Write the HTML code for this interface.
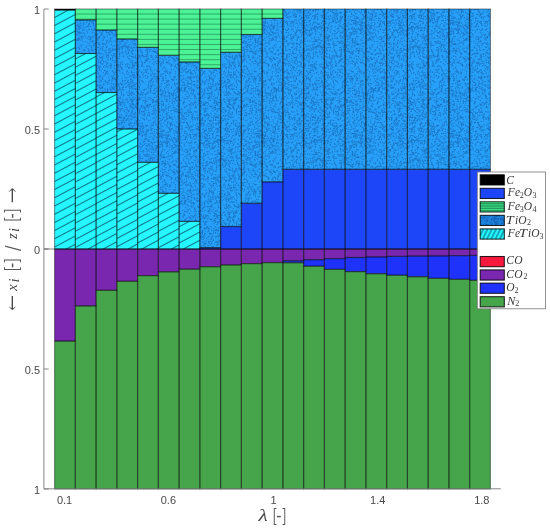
<!DOCTYPE html>
<html lang="en"><head><meta charset="utf-8"><title>Composition vs lambda</title>
<style>html,body{margin:0;padding:0;background:#fff}svg{display:block}.tk{font-family:"Liberation Sans",sans-serif;font-size:11px;fill:#484848}.lg{font-family:"Liberation Serif",serif;font-style:italic;font-size:11.5px;fill:#383838}.sb{font-style:normal;font-size:8px}.ma{font-family:"DejaVu Math TeX Gyre","DejaVu Serif",serif;font-size:17px;fill:#484848}.mb{font-family:"DejaVu Math TeX Gyre","DejaVu Serif",serif;font-size:18px;fill:#555}.ms{font-family:"DejaVu Math TeX Gyre","DejaVu Serif",serif;font-size:19px;fill:#555}.mi{font-family:"Liberation Serif",serif;font-style:italic;font-size:14.5px;fill:#444}</style></head><body>
<svg width="550" height="532" viewBox="0 0 550 532">
<rect width="550" height="532" fill="#fff"/>
<defs><pattern id="sp" width="97" height="113" patternUnits="userSpaceOnUse"><path d="M31.4 17.0h.01M63.1 8.2h.01M52.0 41.3h.01M5.6 57.3h.01M3.6 49.0h.01M6.8 10.3h.01M41.2 93.4h.01M12.0 25.2h.01M60.9 107.1h.01M56.0 44.8h.01M94.7 5.3h.01M83.3 32.7h.01M14.0 13.3h.01M29.9 92.2h.01M17.5 65.7h.01M62.0 42.1h.01M53.1 7.1h.01M5.8 23.3h.01M66.0 48.3h.01M30.5 66.2h.01M44.0 33.9h.01M77.1 79.0h.01M23.7 64.9h.01M50.9 98.9h.01M70.8 32.5h.01M95.1 13.3h.01M40.6 85.6h.01M14.7 55.3h.01M3.8 75.5h.01M74.2 64.8h.01M84.9 35.5h.01M67.4 67.2h.01M56.2 51.6h.01M81.5 106.7h.01M46.0 75.0h.01M5.9 79.3h.01M62.8 112.2h.01M79.7 32.2h.01M37.4 75.6h.01M2.2 52.2h.01M16.3 13.2h.01M5.7 86.8h.01M12.5 28.0h.01M37.9 98.5h.01M7.8 50.8h.01M53.3 99.8h.01M79.5 97.6h.01M27.0 46.9h.01M34.8 99.9h.01M92.9 17.1h.01M17.1 26.2h.01M22.6 54.8h.01M57.1 29.7h.01M0.4 47.3h.01M35.8 64.0h.01M92.5 78.0h.01M50.0 69.8h.01M65.6 6.1h.01M87.3 88.1h.01M84.8 90.2h.01M38.1 45.1h.01M10.0 71.7h.01M6.0 7.6h.01M20.3 18.3h.01M33.0 5.9h.01M0.0 17.1h.01M9.8 41.1h.01M2.5 98.8h.01M59.6 16.8h.01M24.5 39.3h.01M35.3 13.9h.01M82.3 112.2h.01M45.2 54.7h.01M8.3 11.5h.01M33.2 29.9h.01M80.4 18.2h.01M2.2 107.5h.01M51.2 16.6h.01M52.7 3.1h.01M51.2 110.6h.01M83.7 78.7h.01M25.3 41.4h.01M16.2 87.2h.01M51.7 88.0h.01M32.0 25.2h.01M78.7 111.3h.01M82.7 91.1h.01M79.4 83.6h.01M22.0 58.5h.01M34.5 3.3h.01M2.7 31.6h.01M25.1 78.3h.01M92.8 50.5h.01M90.9 111.6h.01M92.6 41.2h.01M21.4 25.6h.01M19.1 23.1h.01M60.5 101.7h.01M81.5 54.2h.01M63.3 90.4h.01M8.2 74.6h.01M88.2 88.4h.01M72.8 54.0h.01M17.3 89.2h.01M32.3 90.5h.01M94.3 44.7h.01M38.9 107.0h.01M70.3 19.2h.01M12.3 17.1h.01M87.8 91.1h.01M14.2 93.4h.01M95.1 74.3h.01M34.0 62.0h.01M12.7 1.6h.01M94.2 73.4h.01M51.1 105.5h.01M42.1 98.5h.01M80.1 23.8h.01M24.4 33.1h.01M23.3 66.3h.01M25.2 47.3h.01M12.7 102.8h.01M34.3 51.8h.01M56.6 102.2h.01M40.8 103.7h.01M48.7 60.1h.01M50.8 2.1h.01M42.7 20.7h.01M0.4 90.3h.01M16.7 53.5h.01M70.3 62.9h.01M31.6 58.6h.01M53.9 88.6h.01M10.3 63.3h.01M24.1 31.3h.01M74.9 57.4h.01M54.5 85.9h.01M88.5 50.1h.01M59.4 57.1h.01M49.7 78.3h.01M43.9 60.3h.01M46.4 106.4h.01M67.8 99.0h.01M91.4 29.3h.01M54.3 106.6h.01M81.5 15.5h.01M11.8 50.0h.01M7.0 27.2h.01M7.1 75.7h.01M76.0 101.4h.01M15.0 80.9h.01M64.0 16.2h.01M85.6 109.3h.01M21.3 107.6h.01M38.6 55.1h.01M96.0 94.1h.01M15.7 48.8h.01M50.0 38.3h.01M19.0 36.0h.01M70.0 2.2h.01M53.7 49.8h.01M1.8 37.5h.01M60.5 57.9h.01M6.2 111.3h.01M76.5 109.8h.01M10.2 30.0h.01M3.8 88.0h.01M26.2 14.6h.01M41.0 103.0h.01M79.4 29.2h.01M14.5 103.9h.01M55.3 79.1h.01M8.7 6.5h.01M66.8 48.1h.01M7.0 106.0h.01M61.5 90.6h.01M8.1 96.8h.01M6.5 97.5h.01M44.0 38.3h.01M53.6 104.7h.01M26.0 14.6h.01M51.1 26.9h.01M10.6 18.2h.01M4.9 22.8h.01M30.3 34.5h.01M73.7 32.8h.01M48.5 20.1h.01M33.7 2.1h.01M24.3 1.7h.01M71.1 62.3h.01M18.4 53.6h.01M90.7 12.0h.01M79.4 48.8h.01M48.0 94.3h.01M38.1 57.3h.01M66.7 111.0h.01M33.2 94.0h.01M68.6 71.9h.01M39.3 39.3h.01M5.3 14.7h.01M6.9 83.7h.01M24.8 18.4h.01M8.2 95.1h.01M84.4 75.8h.01M27.3 27.4h.01M28.4 51.9h.01M15.3 50.4h.01M25.5 108.7h.01M94.3 61.8h.01M23.7 109.1h.01M30.0 40.3h.01M0.1 43.1h.01M46.0 56.8h.01M19.5 57.0h.01M0.5 29.9h.01M8.7 45.1h.01M4.0 2.5h.01M29.5 26.3h.01M56.8 59.8h.01M72.8 74.3h.01M69.5 99.3h.01M37.8 36.9h.01M95.5 16.9h.01M70.2 72.7h.01M4.2 94.4h.01M86.5 70.9h.01M71.2 91.8h.01M13.5 59.2h.01M48.9 94.3h.01M78.1 93.4h.01M56.7 100.9h.01M66.2 78.3h.01M22.3 3.5h.01M12.9 40.8h.01M10.2 94.4h.01M54.2 70.9h.01M60.7 76.9h.01M47.5 0.4h.01M77.4 84.6h.01M48.8 60.5h.01M64.0 7.5h.01M71.5 28.5h.01M7.2 30.0h.01M70.7 23.2h.01M71.8 110.3h.01M47.9 43.2h.01M46.5 77.3h.01M74.4 69.7h.01M62.3 8.8h.01M14.3 28.7h.01M72.1 34.4h.01M55.1 1.4h.01M5.9 30.4h.01M65.2 78.2h.01M65.5 32.9h.01M50.1 52.5h.01M45.2 13.4h.01M86.7 22.5h.01M94.9 105.8h.01M1.7 51.9h.01M79.5 109.4h.01M43.6 30.4h.01M20.4 106.9h.01M20.4 65.7h.01M13.7 59.2h.01M92.4 15.0h.01M79.6 57.5h.01M86.0 79.5h.01M22.4 101.4h.01M47.2 2.8h.01M0.3 55.6h.01M43.7 34.1h.01M13.6 38.9h.01M30.7 94.9h.01M0.2 84.8h.01M81.4 13.6h.01M89.9 80.6h.01M87.5 32.8h.01M36.1 44.4h.01M96.9 66.6h.01M35.0 48.4h.01M26.7 5.5h.01M9.9 94.3h.01M27.7 105.7h.01M24.2 30.0h.01M49.6 21.5h.01M36.2 108.0h.01M85.8 91.8h.01M61.2 103.2h.01M91.2 62.1h.01M69.8 5.6h.01M71.0 50.9h.01M73.0 72.8h.01M27.8 5.5h.01M89.9 14.4h.01M45.8 38.8h.01M28.9 83.5h.01M94.7 29.4h.01M63.6 34.0h.01M54.1 44.6h.01M16.2 18.3h.01M20.2 102.4h.01M48.2 24.9h.01M87.9 112.6h.01M43.6 15.8h.01M18.7 10.3h.01M33.2 10.3h.01M23.2 29.2h.01M55.3 100.3h.01M72.7 46.6h.01M40.1 59.2h.01M36.6 38.2h.01M6.0 31.4h.01M93.9 14.2h.01M48.8 71.1h.01M83.7 24.4h.01M26.3 28.1h.01M38.8 50.4h.01M92.5 95.9h.01M84.7 2.5h.01M3.1 80.2h.01M86.9 53.5h.01M57.0 0.0h.01M38.0 104.7h.01M80.1 96.7h.01M94.3 28.1h.01M10.6 17.4h.01M50.7 77.1h.01M91.3 81.6h.01M62.8 86.4h.01M44.4 62.3h.01M3.8 88.4h.01M22.6 104.0h.01M62.6 34.3h.01M12.4 28.5h.01M61.7 78.9h.01M10.9 7.9h.01M50.9 65.9h.01M37.6 25.3h.01M58.3 1.2h.01M29.2 52.1h.01M93.0 72.8h.01M85.7 53.7h.01M22.8 27.9h.01M93.2 79.6h.01M29.8 2.5h.01M48.3 76.2h.01M40.7 29.1h.01M64.7 104.5h.01M22.0 3.9h.01M32.8 47.5h.01M66.2 22.4h.01M77.3 83.5h.01M49.0 23.2h.01M94.1 35.2h.01M79.5 26.1h.01M21.5 85.9h.01M28.6 107.6h.01M48.1 21.2h.01M21.7 47.1h.01M64.5 107.2h.01M14.2 44.5h.01M20.7 110.1h.01M13.8 5.9h.01M5.8 44.4h.01M87.1 99.8h.01M71.1 112.7h.01M90.4 37.2h.01M18.0 105.8h.01M72.4 3.6h.01M64.4 42.8h.01M36.3 37.5h.01M16.4 0.3h.01M27.1 39.7h.01M92.7 14.0h.01M93.5 23.4h.01M34.6 92.8h.01M79.7 48.9h.01M4.8 53.5h.01M36.2 103.9h.01M18.7 41.2h.01M87.0 3.4h.01M39.8 91.7h.01M74.4 4.6h.01M3.4 7.1h.01M89.2 29.0h.01M72.5 101.5h.01M32.9 30.8h.01M92.9 69.7h.01M25.4 81.0h.01M30.7 31.1h.01M0.4 85.4h.01M88.9 71.6h.01M91.5 2.7h.01M22.7 53.7h.01M92.8 107.8h.01M37.5 28.4h.01M41.7 55.8h.01M90.0 20.7h.01M77.8 83.4h.01M79.8 87.3h.01M58.9 37.0h.01M31.0 40.9h.01M75.9 8.9h.01M19.1 85.1h.01M24.0 7.3h.01M3.3 62.4h.01M31.6 110.8h.01M85.7 111.6h.01M25.7 9.5h.01M9.4 56.3h.01M68.8 50.5h.01M22.7 47.1h.01M60.2 76.2h.01M72.6 95.7h.01M64.4 13.7h.01M81.6 33.2h.01M55.0 42.1h.01M71.6 22.5h.01M24.0 27.7h.01M14.9 99.9h.01M56.1 36.9h.01M38.4 112.1h.01M49.2 26.1h.01M78.4 73.8h.01M96.1 11.6h.01M46.1 92.6h.01M81.5 103.3h.01M3.9 33.2h.01M11.6 21.4h.01M94.4 65.9h.01M90.2 42.1h.01M84.0 50.7h.01M25.2 87.9h.01M91.7 12.0h.01M57.8 70.1h.01M21.1 41.7h.01M13.7 23.0h.01M24.7 67.7h.01M63.2 23.0h.01M1.1 37.0h.01M65.8 20.9h.01M30.3 23.0h.01M77.1 61.9h.01M6.1 11.5h.01M38.3 62.2h.01M62.0 10.3h.01M15.9 78.6h.01M39.7 32.0h.01M29.8 107.7h.01M30.3 64.0h.01M34.6 47.1h.01M83.8 112.6h.01M35.3 22.3h.01M70.6 23.0h.01M0.6 101.9h.01M41.1 92.7h.01M39.4 99.8h.01M44.7 18.4h.01M1.4 62.3h.01M62.1 102.8h.01M8.6 70.3h.01M36.0 57.0h.01M14.2 32.0h.01M50.6 104.6h.01M10.6 55.4h.01M78.1 109.3h.01M19.1 14.3h.01M91.5 110.2h.01M46.8 6.0h.01M89.8 43.8h.01M87.7 70.1h.01M80.0 18.1h.01M76.2 25.1h.01M39.2 95.6h.01M80.4 20.7h.01M21.2 45.2h.01M50.2 43.3h.01M11.9 27.9h.01M70.3 101.4h.01M4.0 63.5h.01M73.5 4.3h.01M81.3 13.3h.01M58.2 62.2h.01M60.8 34.6h.01M40.7 65.8h.01M41.3 74.4h.01M43.3 49.5h.01M2.3 69.9h.01M47.5 26.6h.01M74.1 88.1h.01M44.5 20.3h.01M45.9 12.1h.01M12.5 48.7h.01M8.9 49.9h.01M49.5 4.6h.01M61.7 9.3h.01M71.1 87.9h.01M49.6 6.1h.01M48.9 42.7h.01M92.2 15.4h.01M83.1 112.6h.01M71.0 92.1h.01M18.8 110.9h.01M47.7 108.1h.01M88.9 18.7h.01M76.5 105.2h.01M6.4 39.7h.01M73.3 17.9h.01M87.0 31.1h.01M79.1 16.2h.01M48.7 103.9h.01M20.2 29.7h.01M49.1 36.1h.01M3.6 20.6h.01M15.6 105.8h.01M65.9 101.2h.01M16.4 88.7h.01M11.2 60.0h.01M61.7 40.7h.01M84.7 62.7h.01M56.3 99.7h.01M10.1 112.2h.01M61.1 44.6h.01M77.4 29.9h.01M96.1 65.2h.01M34.9 86.4h.01M42.9 20.0h.01M72.1 5.5h.01M79.5 28.7h.01M62.0 111.2h.01M56.8 75.0h.01M30.3 0.2h.01M3.3 16.9h.01M59.8 48.8h.01M49.7 101.2h.01M12.8 25.7h.01M63.4 2.5h.01M0.3 40.1h.01M10.3 40.4h.01M21.8 65.9h.01M57.1 23.1h.01M60.5 53.7h.01M13.1 105.8h.01M23.6 16.9h.01M9.3 72.1h.01M84.5 88.4h.01M39.0 29.9h.01M1.1 72.9h.01M54.5 39.6h.01M62.6 50.1h.01M90.9 82.9h.01M24.1 102.1h.01M4.3 60.1h.01M39.4 26.9h.01M5.7 88.0h.01M1.2 62.3h.01M91.3 16.1h.01M19.4 68.7h.01M49.2 72.5h.01M78.9 19.7h.01M30.0 33.9h.01M4.7 100.5h.01M75.9 80.8h.01M0.6 95.4h.01M72.3 52.6h.01M72.0 51.1h.01M21.9 11.9h.01M22.5 4.4h.01M32.5 84.7h.01M67.4 95.5h.01M69.0 30.1h.01M53.7 49.3h.01M76.5 59.1h.01M25.7 72.5h.01M93.6 24.5h.01M85.4 1.7h.01M25.3 26.7h.01M72.2 106.8h.01M72.4 36.9h.01M85.4 37.1h.01M23.2 102.6h.01M61.2 78.3h.01M64.5 110.6h.01M45.5 94.9h.01M67.7 96.9h.01M42.4 81.9h.01M55.3 34.8h.01M20.6 70.4h.01M7.5 102.9h.01M14.0 3.0h.01M10.3 105.0h.01M33.5 16.0h.01M2.8 4.7h.01M67.2 71.6h.01M67.6 83.3h.01M6.4 66.7h.01M35.3 92.4h.01M79.5 100.7h.01M6.4 98.1h.01M88.7 106.7h.01M10.4 23.2h.01M10.9 3.9h.01M82.2 91.8h.01M61.5 93.2h.01M61.3 32.5h.01M9.7 11.1h.01M73.5 23.2h.01M31.0 47.9h.01M2.0 29.0h.01M27.4 80.9h.01M35.7 36.3h.01M93.5 56.9h.01M82.6 69.9h.01M3.0 46.7h.01M42.3 87.4h.01M33.6 79.6h.01M52.2 24.5h.01M83.6 10.3h.01M79.5 19.3h.01M0.1 22.8h.01M73.9 110.5h.01M0.4 55.5h.01M47.7 90.0h.01M17.9 55.9h.01M33.7 94.0h.01M25.3 106.7h.01M27.5 24.3h.01M67.8 56.3h.01M10.7 71.9h.01M7.8 89.0h.01M67.6 88.9h.01M60.9 40.2h.01M38.9 44.6h.01M86.4 9.7h.01M86.2 2.8h.01M20.0 29.7h.01M87.4 56.6h.01M36.8 99.9h.01M22.7 52.1h.01M51.6 85.3h.01M73.0 73.0h.01M33.8 36.9h.01M15.1 95.3h.01M64.2 83.8h.01M16.4 49.6h.01M75.0 65.4h.01M12.2 52.2h.01M85.9 26.9h.01M18.6 34.1h.01M68.2 95.3h.01M15.0 17.6h.01M24.0 36.9h.01M50.7 18.2h.01M31.8 21.4h.01M94.6 82.3h.01M9.9 108.7h.01M9.9 43.4h.01M95.4 89.8h.01M71.1 49.1h.01M19.0 72.1h.01M10.4 23.3h.01M37.7 3.8h.01M38.7 89.4h.01M67.3 56.6h.01M61.3 52.4h.01M13.8 68.2h.01M39.3 83.7h.01M88.1 48.6h.01M55.7 84.6h.01M40.9 25.8h.01M70.1 99.4h.01M75.1 79.1h.01M82.7 76.8h.01M62.2 51.3h.01M30.4 71.0h.01M9.5 47.4h.01M75.9 80.6h.01M61.1 28.3h.01M41.1 51.4h.01M60.3 46.3h.01M65.5 105.1h.01M17.8 74.0h.01M75.5 43.9h.01M47.5 110.1h.01M3.7 61.4h.01M15.6 88.3h.01M91.2 58.7h.01M9.8 64.9h.01M52.5 81.1h.01M49.7 72.2h.01M80.4 59.0h.01M39.8 107.1h.01M20.4 77.3h.01M38.1 86.2h.01M11.9 111.2h.01M34.5 6.4h.01M26.6 45.2h.01M1.3 47.3h.01M40.8 78.9h.01M34.2 30.0h.01M21.8 83.8h.01M91.2 59.6h.01M21.2 90.6h.01M38.0 24.0h.01M12.5 87.8h.01M78.5 71.7h.01M45.5 63.5h.01M21.9 108.9h.01M34.3 72.2h.01M79.4 92.2h.01M45.4 33.3h.01M53.2 14.1h.01M80.9 40.1h.01M82.5 30.2h.01M36.5 28.7h.01M41.3 21.0h.01M0.3 81.6h.01M27.3 27.7h.01M29.3 54.2h.01M41.6 72.0h.01M63.9 41.0h.01M90.1 96.6h.01M5.5 93.6h.01M87.9 88.6h.01M13.6 93.9h.01M61.4 1.7h.01M1.1 107.5h.01M63.6 28.3h.01M9.8 16.1h.01M22.7 87.7h.01M33.6 17.3h.01M87.7 89.5h.01M16.3 100.7h.01M59.0 88.3h.01M64.8 101.0h.01M76.4 94.8h.01M19.1 78.3h.01M51.5 83.8h.01M42.5 99.7h.01M53.8 29.9h.01M22.7 15.7h.01M47.8 6.6h.01M45.3 16.3h.01M47.7 56.3h.01M52.3 97.5h.01M0.6 95.0h.01M45.4 63.6h.01M64.5 95.0h.01M36.4 47.3h.01M93.2 8.5h.01M61.8 71.9h.01M2.8 68.9h.01M66.2 105.3h.01M32.1 110.9h.01M49.5 54.8h.01M87.1 3.8h.01M69.7 70.7h.01M32.8 97.4h.01M35.5 53.6h.01M51.0 87.1h.01M20.4 49.2h.01M41.0 62.6h.01M80.2 33.1h.01M80.3 45.6h.01M48.9 30.7h.01M49.1 110.2h.01M63.5 89.5h.01M32.1 35.8h.01M29.0 66.3h.01M61.6 88.6h.01M3.9 81.7h.01M85.9 61.6h.01M4.8 33.9h.01M0.6 21.5h.01M89.4 68.8h.01M63.8 89.2h.01M88.3 69.1h.01M59.8 70.8h.01M67.6 67.4h.01M66.1 24.0h.01M64.7 51.7h.01M74.0 11.5h.01M17.6 4.2h.01M75.1 103.3h.01M63.6 41.7h.01M79.8 88.9h.01M54.5 29.2h.01M29.3 47.7h.01M30.9 48.7h.01M62.3 105.5h.01M5.3 64.1h.01M3.8 13.4h.01M78.6 65.0h.01M89.1 50.5h.01M1.4 43.7h.01M57.4 106.0h.01M95.1 53.7h.01M40.0 11.5h.01M62.5 24.0h.01M14.7 1.8h.01M0.5 77.3h.01M11.8 109.2h.01M8.5 98.3h.01M12.5 2.0h.01M69.8 27.4h.01M71.2 21.2h.01M4.9 87.5h.01M69.2 96.7h.01M70.8 9.5h.01M61.0 80.1h.01M44.7 105.4h.01M24.6 109.0h.01M69.6 1.3h.01M1.4 73.5h.01M79.3 9.0h.01M30.2 82.4h.01M16.1 97.3h.01M47.2 6.8h.01M35.7 65.0h.01M42.6 76.5h.01M14.1 90.1h.01M35.2 72.9h.01M61.1 47.2h.01M37.4 88.8h.01M91.7 88.7h.01M55.0 33.0h.01M5.9 110.1h.01M68.2 93.5h.01M32.2 68.5h.01M94.8 93.9h.01M58.3 34.9h.01M41.6 100.4h.01M36.5 77.4h.01M58.4 101.3h.01M78.3 32.0h.01M0.2 29.7h.01M41.0 66.3h.01M79.2 100.3h.01M4.1 94.2h.01M78.7 98.0h.01M55.5 30.9h.01M82.6 91.2h.01M66.4 103.3h.01M33.6 9.6h.01M53.7 90.1h.01M19.4 84.8h.01M90.4 26.4h.01M58.9 76.6h.01M45.1 23.3h.01M24.7 84.9h.01M76.8 51.9h.01M8.5 91.1h.01M74.9 26.3h.01M56.2 101.4h.01M85.9 59.0h.01M46.2 66.6h.01M18.3 21.7h.01M17.5 79.2h.01M35.2 63.8h.01M39.0 58.4h.01M14.5 5.0h.01M96.7 42.3h.01M10.3 71.5h.01M76.4 17.6h.01M57.9 39.0h.01M50.4 2.3h.01M3.3 111.9h.01M84.0 55.0h.01M55.0 29.6h.01M75.6 48.1h.01M91.8 86.7h.01M79.4 108.9h.01M24.6 4.3h.01M19.5 20.4h.01M8.1 5.8h.01M54.1 98.4h.01M44.5 107.0h.01M88.3 7.3h.01M58.0 44.9h.01M11.6 108.4h.01M24.9 63.8h.01M62.1 108.1h.01M65.0 44.4h.01M43.5 18.0h.01M93.7 112.1h.01M21.5 4.4h.01M24.8 39.8h.01M87.6 102.2h.01M81.2 5.3h.01M76.3 80.2h.01M62.7 111.4h.01M5.4 16.4h.01M73.2 106.2h.01M65.7 33.8h.01M57.4 85.6h.01M10.2 36.6h.01M24.9 14.0h.01M46.7 19.0h.01M23.1 16.2h.01M65.7 1.4h.01M69.6 22.0h.01M3.5 104.8h.01M21.4 105.5h.01M84.1 100.4h.01M13.6 50.5h.01M9.4 105.0h.01M81.7 71.0h.01M43.9 38.4h.01M79.8 54.0h.01M60.9 16.1h.01M21.5 6.4h.01M69.2 62.5h.01M14.0 98.4h.01M25.8 46.5h.01M15.1 30.6h.01M81.4 37.8h.01M16.3 55.5h.01M30.9 102.1h.01M11.1 110.6h.01M5.5 101.1h.01M64.8 23.9h.01M46.3 32.3h.01M25.0 22.8h.01M35.3 112.0h.01M96.8 104.5h.01M9.5 32.7h.01M86.9 6.5h.01M70.5 33.2h.01M94.9 1.8h.01M78.3 38.5h.01M13.6 0.2h.01M80.7 59.5h.01M18.0 49.2h.01M88.5 24.7h.01M55.4 15.6h.01M17.5 87.1h.01M69.0 22.2h.01M7.7 9.9h.01M59.0 56.0h.01M26.6 23.3h.01M59.4 80.0h.01M78.7 65.9h.01M19.6 7.4h.01M71.1 46.1h.01M70.0 6.3h.01M78.6 37.9h.01M81.7 97.7h.01M47.8 1.7h.01M88.3 53.9h.01M84.6 30.1h.01M18.0 94.0h.01M35.6 18.5h.01M36.0 67.2h.01M0.5 58.7h.01M43.2 58.3h.01M11.7 80.7h.01M79.2 97.8h.01M31.1 80.4h.01M37.0 84.9h.01M5.9 98.6h.01M92.5 55.9h.01M49.8 59.9h.01M52.1 2.3h.01M93.8 25.3h.01M17.7 11.6h.01M24.3 92.3h.01M2.9 10.9h.01M67.8 22.0h.01M1.7 67.7h.01M55.9 59.1h.01M68.2 11.6h.01M84.3 81.0h.01M4.4 13.9h.01M47.9 56.6h.01M27.1 13.8h.01M39.3 15.5h.01M57.4 97.3h.01M14.3 64.7h.01M72.4 18.6h.01M80.1 105.9h.01M37.7 47.5h.01M81.5 59.4h.01M38.4 106.4h.01M75.4 38.3h.01M23.3 37.9h.01M42.3 110.9h.01M78.0 103.1h.01M79.1 95.8h.01M5.2 58.5h.01M92.9 105.6h.01M24.2 47.7h.01M61.4 41.2h.01M51.5 7.8h.01M42.0 57.0h.01M2.0 15.8h.01M94.1 87.8h.01M90.9 71.6h.01M78.5 99.9h.01M85.8 3.9h.01M62.2 30.0h.01M65.8 30.9h.01M52.6 104.5h.01M60.3 28.3h.01M50.5 49.0h.01M92.2 32.5h.01M29.6 73.2h.01M11.7 67.2h.01M92.7 58.1h.01M26.0 52.7h.01M51.8 16.8h.01M12.0 14.8h.01M28.5 45.9h.01M28.0 27.5h.01M8.5 61.7h.01M81.5 68.9h.01M55.3 73.5h.01M19.5 80.3h.01M44.7 61.9h.01M59.4 53.0h.01M30.1 27.4h.01M21.5 57.9h.01M37.2 66.2h.01M1.2 39.8h.01M83.6 27.0h.01M54.0 55.5h.01M27.6 111.6h.01M28.7 87.3h.01M15.4 7.5h.01M84.5 49.7h.01M6.0 43.8h.01M42.7 83.1h.01M10.6 25.4h.01M93.1 83.5h.01M15.0 38.1h.01M34.2 76.3h.01M59.8 96.0h.01M79.7 58.5h.01M71.7 84.0h.01M73.7 53.7h.01M76.1 80.1h.01M88.7 14.4h.01M84.5 0.5h.01M74.3 66.2h.01M48.3 108.8h.01M55.5 47.2h.01M76.0 98.6h.01M58.9 42.9h.01M43.9 51.7h.01M70.1 33.1h.01M37.9 62.8h.01M37.3 36.4h.01M76.3 96.0h.01M48.5 50.2h.01M17.9 34.4h.01M14.1 65.0h.01M56.4 9.9h.01M89.3 36.6h.01M81.8 94.7h.01M93.0 23.1h.01M41.4 102.9h.01M1.0 5.4h.01M54.8 56.2h.01M89.3 87.4h.01M52.2 112.8h.01M50.2 58.5h.01M66.5 44.0h.01M34.7 67.2h.01M34.1 107.1h.01M65.6 59.4h.01M9.6 42.3h.01M38.9 63.4h.01M55.7 99.4h.01M93.6 55.0h.01M42.7 70.6h.01M96.6 38.8h.01M51.4 92.2h.01M16.6 35.9h.01M94.9 93.3h.01M49.7 12.5h.01M86.8 78.0h.01M79.6 111.9h.01M86.1 47.6h.01M15.2 32.8h.01M49.6 57.1h.01M18.2 20.6h.01M61.1 68.2h.01M34.3 112.3h.01M61.7 4.8h.01M39.9 89.0h.01M29.8 78.0h.01M0.4 34.4h.01M81.7 66.2h.01M64.8 22.2h.01M48.3 62.5h.01M25.8 73.1h.01M51.6 112.7h.01M55.7 46.5h.01M11.8 17.7h.01M73.7 12.1h.01M9.7 19.3h.01M50.7 93.0h.01M59.5 91.1h.01M6.0 1.4h.01M74.7 36.5h.01M69.4 40.0h.01M16.4 30.1h.01M9.6 102.1h.01M56.5 39.4h.01M43.6 43.6h.01M5.3 100.6h.01M56.5 108.4h.01M42.6 70.1h.01M24.2 5.0h.01M90.3 96.6h.01M30.5 101.6h.01M79.1 34.3h.01M58.4 108.5h.01M48.1 107.3h.01M23.6 44.0h.01M69.7 25.0h.01M30.0 98.9h.01M47.0 89.6h.01M23.6 19.6h.01M34.8 21.1h.01M94.2 32.8h.01M54.5 13.0h.01M51.8 43.6h.01M39.1 7.4h.01M12.0 93.3h.01M34.1 27.7h.01M18.5 32.0h.01M23.0 3.9h.01M64.4 38.6h.01M15.1 79.8h.01M9.0 30.5h.01M81.0 14.4h.01M43.0 94.5h.01M78.1 18.0h.01M34.2 81.6h.01M36.6 108.3h.01M20.2 107.5h.01M49.0 25.7h.01M43.9 14.8h.01M68.5 29.5h.01M87.3 66.4h.01M35.7 27.8h.01M59.0 24.0h.01M84.6 13.9h.01M49.8 61.3h.01M26.2 87.2h.01M37.3 74.3h.01M55.1 35.1h.01M37.8 9.7h.01M17.2 96.2h.01M31.1 74.9h.01M10.6 63.5h.01M35.1 56.5h.01M28.8 7.4h.01M30.2 25.6h.01M12.2 81.0h.01M27.4 45.6h.01M88.2 87.6h.01M85.6 97.3h.01M12.8 31.2h.01M2.9 76.8h.01M64.4 39.7h.01M40.0 74.5h.01M67.8 28.1h.01M82.1 39.8h.01M61.0 20.5h.01M11.2 103.1h.01M71.2 80.5h.01M3.9 4.5h.01M15.7 22.4h.01M29.4 43.0h.01M3.8 35.1h.01M61.9 20.3h.01M81.4 64.4h.01M69.5 28.8h.01M42.2 77.3h.01M33.9 0.1h.01M80.9 87.7h.01M27.8 4.9h.01M82.9 68.6h.01M4.6 27.6h.01M10.8 89.4h.01M20.4 103.3h.01M72.7 9.7h.01M67.4 44.5h.01M72.5 93.6h.01M27.3 10.2h.01M91.8 47.9h.01M90.2 78.2h.01M71.6 93.8h.01M60.9 51.2h.01M5.3 78.9h.01M41.5 57.8h.01M90.0 14.4h.01M73.9 4.9h.01M68.2 91.0h.01M25.3 61.7h.01M94.0 72.0h.01M52.8 28.2h.01M5.8 40.4h.01M39.9 22.8h.01M30.1 15.4h.01M68.6 75.7h.01M23.1 27.3h.01M50.0 50.3h.01M90.8 39.7h.01M29.0 100.0h.01M13.8 63.6h.01M32.4 92.1h.01M53.2 85.9h.01M16.4 75.3h.01M58.1 52.1h.01M74.3 93.9h.01M11.1 32.7h.01M35.0 23.3h.01M5.9 31.7h.01M19.1 79.3h.01M43.5 12.8h.01M31.5 53.0h.01M35.2 19.0h.01M7.0 1.2h.01M96.2 84.8h.01M8.1 81.0h.01M95.1 63.7h.01M10.6 55.2h.01M42.1 21.4h.01M52.7 0.9h.01M89.2 72.8h.01M60.9 105.7h.01M63.3 28.4h.01M23.9 15.7h.01M2.7 87.5h.01M81.4 33.5h.01M18.0 72.1h.01M82.0 104.7h.01M16.3 88.7h.01M80.5 83.9h.01M31.7 20.9h.01M80.1 36.2h.01M35.7 62.3h.01M35.8 93.9h.01M23.2 4.7h.01M55.0 71.0h.01M79.5 79.7h.01M87.8 106.8h.01M48.0 56.4h.01M15.3 33.9h.01M56.4 9.1h.01M66.7 18.5h.01M43.0 109.6h.01M8.7 4.5h.01M42.6 21.6h.01M70.1 0.3h.01M81.6 96.7h.01M76.3 48.1h.01M27.5 74.8h.01M49.9 47.6h.01M32.9 49.6h.01M64.6 93.3h.01M87.7 18.6h.01M28.7 50.1h.01M54.6 39.3h.01M19.0 9.6h.01M31.4 52.0h.01M94.2 102.7h.01M83.9 110.1h.01M93.3 70.0h.01M78.7 6.8h.01M65.6 68.8h.01M28.8 64.5h.01M92.4 54.3h.01M62.8 33.8h.01M33.3 100.0h.01M2.7 21.3h.01M65.8 50.5h.01M8.3 74.6h.01M36.1 65.6h.01M40.4 59.9h.01M54.8 44.8h.01M11.1 20.4h.01M86.3 61.9h.01M10.9 97.4h.01M24.6 10.7h.01M51.5 28.4h.01M47.5 62.6h.01M22.0 64.7h.01M11.0 58.0h.01M57.1 9.1h.01M39.6 8.3h.01M42.6 97.6h.01M53.4 80.8h.01M73.4 13.0h.01M96.1 81.5h.01M9.9 93.8h.01M38.0 19.4h.01M93.1 63.6h.01M75.2 15.5h.01M75.3 6.5h.01M23.0 42.1h.01M1.5 67.2h.01M20.7 33.9h.01M68.6 48.1h.01M86.2 70.2h.01M84.6 63.6h.01M89.0 98.4h.01M16.3 84.2h.01M33.1 86.3h.01M66.0 93.3h.01M11.9 42.2h.01M71.5 107.1h.01M70.0 4.9h.01M58.6 11.3h.01M53.2 90.7h.01M11.0 104.6h.01M65.5 28.8h.01M18.7 50.5h.01M81.3 65.7h.01M11.0 2.4h.01M10.7 90.5h.01M18.0 62.6h.01M28.1 77.6h.01M36.9 16.3h.01M84.9 60.8h.01M66.9 91.3h.01M92.0 1.6h.01M33.2 17.1h.01M48.7 98.7h.01M77.6 4.0h.01M17.7 92.5h.01M65.9 44.4h.01M46.1 17.9h.01M82.0 44.5h.01M84.7 69.0h.01M7.4 37.2h.01M21.0 101.0h.01M57.2 4.9h.01M16.5 40.8h.01M45.4 65.2h.01M37.6 40.0h.01M0.6 65.4h.01M32.4 2.3h.01M44.6 111.5h.01M4.4 16.5h.01M65.1 30.8h.01M26.5 56.5h.01M25.4 64.3h.01M51.2 108.1h.01M96.2 3.9h.01M54.4 87.1h.01M84.6 87.5h.01M61.4 71.7h.01M35.2 31.8h.01M77.1 98.6h.01M91.0 77.0h.01M29.5 86.3h.01M71.7 57.5h.01M61.6 39.6h.01M53.4 45.9h.01M5.9 38.1h.01M31.4 111.7h.01M46.7 41.5h.01M23.6 26.5h.01M33.9 15.3h.01M0.7 98.4h.01M44.0 50.3h.01M55.2 34.2h.01M16.4 7.5h.01M29.2 34.9h.01M70.5 62.3h.01M90.9 38.5h.01M89.4 65.9h.01M7.8 20.2h.01M56.3 111.6h.01M34.6 87.5h.01M41.5 98.1h.01M6.6 54.8h.01M87.2 31.2h.01M25.0 2.6h.01M16.0 30.3h.01M68.3 24.7h.01M38.8 22.6h.01M58.5 97.6h.01M62.9 22.2h.01M71.2 108.8h.01M58.3 9.0h.01M78.5 98.9h.01M33.1 15.4h.01M18.3 60.7h.01M84.9 72.3h.01M89.5 24.0h.01M31.7 84.7h.01M62.9 45.8h.01M65.9 38.2h.01M5.6 46.8h.01M4.4 70.8h.01M32.4 55.9h.01M58.0 29.0h.01M44.9 1.5h.01M89.8 63.7h.01M95.8 6.3h.01M59.6 81.8h.01M31.9 10.6h.01M15.2 16.1h.01M74.4 10.2h.01M79.0 47.8h.01M52.3 66.5h.01M53.8 74.3h.01M58.4 37.4h.01M71.9 29.1h.01M69.0 86.3h.01M75.3 34.9h.01M74.9 110.4h.01M44.0 31.4h.01M50.8 106.3h.01M12.8 1.0h.01M46.1 74.1h.01M75.1 41.0h.01M96.0 25.8h.01M73.4 10.2h.01M2.7 15.2h.01M5.8 56.7h.01M53.9 20.5h.01M91.2 41.3h.01M14.5 20.0h.01M71.6 104.1h.01M15.7 3.3h.01M75.5 27.4h.01M95.3 56.4h.01M61.7 38.9h.01M77.7 52.0h.01M31.4 102.1h.01M10.5 82.9h.01M6.3 72.9h.01M39.0 97.6h.01M5.8 63.8h.01M39.8 103.9h.01M91.7 70.9h.01M21.7 28.5h.01M25.4 49.0h.01M22.4 23.0h.01M73.6 72.6h.01M29.0 112.4h.01M21.0 64.4h.01M15.2 97.5h.01M84.3 30.2h.01M72.9 93.0h.01M27.4 37.5h.01M47.1 100.7h.01M15.7 77.2h.01M58.0 51.2h.01M56.2 99.8h.01M20.4 99.8h.01M35.0 88.1h.01M83.7 20.6h.01M83.8 112.4h.01M28.9 2.8h.01M10.8 110.1h.01M0.9 103.0h.01M14.6 83.2h.01M9.5 19.1h.01M66.2 10.2h.01M32.9 103.8h.01M69.5 99.7h.01M95.0 3.7h.01M22.8 89.5h.01M66.9 4.3h.01M49.0 26.2h.01M41.8 11.9h.01M1.9 112.0h.01M30.7 99.3h.01M11.7 55.1h.01M13.2 48.4h.01M17.4 77.4h.01M14.3 83.4h.01M48.6 12.7h.01M34.3 56.1h.01M89.1 39.5h.01M20.9 109.3h.01M85.7 82.6h.01M26.5 20.0h.01M25.7 7.8h.01M4.2 57.5h.01M39.6 62.9h.01M35.2 1.2h.01M66.8 73.8h.01M52.8 62.0h.01M67.0 111.0h.01M84.8 81.1h.01M38.7 36.0h.01M40.7 109.9h.01M37.5 43.6h.01M39.8 16.2h.01M96.8 0.6h.01M59.0 104.7h.01M24.7 69.0h.01M36.6 27.2h.01M19.2 13.1h.01M81.8 88.6h.01M88.1 5.6h.01M67.3 36.7h.01M62.7 62.0h.01M30.6 109.8h.01M0.1 84.3h.01M82.8 57.6h.01M57.5 112.4h.01M22.7 71.1h.01M72.1 42.8h.01M69.1 44.5h.01M51.0 69.2h.01M65.7 36.4h.01M61.0 61.4h.01M21.7 69.2h.01M25.7 102.7h.01M45.9 81.5h.01M50.6 53.9h.01M21.5 16.1h.01M90.0 59.7h.01M50.8 59.6h.01M78.9 27.0h.01M16.7 92.9h.01M44.6 72.4h.01M80.3 101.0h.01M84.2 4.9h.01M37.0 94.0h.01M79.3 13.9h.01M14.9 28.4h.01M10.0 40.3h.01M77.9 58.9h.01M43.9 9.9h.01M38.4 112.7h.01M67.4 50.8h.01M46.4 90.2h.01M73.6 16.9h.01M66.0 41.5h.01M50.5 26.9h.01M36.0 38.4h.01M37.0 2.0h.01M19.5 64.5h.01M5.6 20.2h.01M69.7 31.0h.01M31.4 27.3h.01M80.9 10.3h.01M61.7 97.1h.01M19.6 47.8h.01M76.9 69.8h.01M36.0 5.0h.01M42.9 41.5h.01M69.1 33.4h.01M39.6 73.2h.01M78.7 39.8h.01M37.4 65.4h.01M89.7 21.7h.01M94.2 80.4h.01M36.1 75.2h.01M32.0 8.0h.01M73.3 42.9h.01M51.0 56.1h.01M87.4 85.5h.01M2.5 67.0h.01M44.9 52.2h.01M81.4 46.9h.01M45.9 100.6h.01M42.7 55.5h.01M49.6 93.2h.01M65.0 83.7h.01M39.0 4.6h.01M65.9 62.6h.01M74.6 87.0h.01M11.5 24.9h.01M7.5 92.4h.01M9.9 10.0h.01M73.1 63.8h.01M5.3 77.0h.01M69.0 54.6h.01M5.3 78.1h.01M40.5 66.0h.01M96.8 92.3h.01M84.6 16.4h.01M32.4 58.6h.01M0.6 111.7h.01M26.6 29.6h.01M30.4 28.8h.01M83.3 62.8h.01M49.6 47.5h.01M5.0 34.4h.01M84.1 90.6h.01M83.1 29.1h.01M19.6 5.9h.01M52.1 42.2h.01M45.0 55.3h.01M56.6 41.3h.01M77.7 22.6h.01M89.2 62.8h.01M5.0 35.5h.01M51.7 46.2h.01M54.8 36.6h.01M26.5 90.0h.01M28.3 80.3h.01M77.8 66.9h.01M44.1 105.6h.01M43.2 99.2h.01M5.6 49.0h.01M62.0 5.5h.01M83.7 8.1h.01M57.8 20.4h.01M89.5 63.4h.01M77.7 56.3h.01M65.4 76.3h.01M28.6 23.8h.01M81.3 16.5h.01M89.0 23.4h.01M9.8 10.8h.01M76.1 107.4h.01M40.2 74.5h.01M25.0 102.4h.01M66.5 17.5h.01M5.5 78.6h.01M4.1 94.5h.01M28.5 26.3h.01M56.5 36.0h.01M54.4 17.4h.01M88.5 36.7h.01M81.6 17.2h.01M77.5 110.8h.01M38.0 3.7h.01M36.9 72.4h.01M21.7 61.7h.01M9.1 52.5h.01M70.6 48.6h.01M65.9 12.9h.01M80.4 13.8h.01M89.6 112.6h.01M91.1 59.5h.01M28.2 39.3h.01M72.8 56.1h.01M90.2 10.5h.01M47.0 97.6h.01M58.0 61.1h.01M8.6 15.8h.01M26.3 100.9h.01M82.0 25.7h.01M89.7 3.7h.01M58.1 109.3h.01M33.4 106.7h.01M63.7 5.7h.01M32.3 50.8h.01M24.0 83.9h.01M17.3 89.0h.01M28.9 7.8h.01M54.2 10.8h.01M53.5 89.0h.01M57.8 52.1h.01M3.3 58.0h.01M9.4 73.1h.01M12.8 65.3h.01M34.2 42.3h.01M64.3 18.5h.01M16.5 106.4h.01M32.2 95.2h.01M84.7 54.3h.01M14.5 10.6h.01M85.3 13.2h.01M48.1 60.6h.01M11.4 52.9h.01M15.9 60.5h.01M49.2 41.5h.01M19.2 45.6h.01M19.7 14.4h.01M23.3 98.5h.01M48.7 100.6h.01M1.5 106.6h.01M47.4 89.4h.01M55.3 77.9h.01M22.2 84.8h.01M14.9 29.9h.01M3.0 44.4h.01M50.3 33.0h.01M86.4 9.5h.01M56.1 26.4h.01M57.7 88.6h.01M68.9 7.0h.01M23.8 67.7h.01M95.3 4.7h.01M60.0 78.2h.01M79.0 38.7h.01M78.6 52.2h.01M89.3 1.2h.01M91.2 46.6h.01M39.5 9.9h.01M23.7 82.9h.01M65.8 17.1h.01M33.4 15.9h.01M19.2 24.8h.01M32.1 110.3h.01M96.7 89.4h.01M46.5 56.2h.01M75.6 102.6h.01M72.9 71.9h.01M19.3 70.6h.01M82.0 88.9h.01M9.0 81.1h.01M33.9 18.3h.01M93.7 76.0h.01M72.3 15.2h.01M80.4 105.9h.01M87.8 84.2h.01M80.7 90.6h.01M57.3 49.2h.01M80.0 88.6h.01M84.5 33.8h.01M93.2 60.1h.01M91.8 13.1h.01M93.9 89.0h.01M24.4 94.7h.01M22.5 22.4h.01M44.4 26.7h.01M47.8 102.6h.01M66.5 80.3h.01M38.0 88.6h.01M77.0 77.2h.01M91.3 93.3h.01M39.4 9.8h.01M63.3 94.5h.01M32.9 67.2h.01M81.1 89.6h.01M0.4 55.3h.01M1.6 12.5h.01M78.8 47.3h.01M58.7 51.7h.01M32.5 24.1h.01M34.3 95.4h.01M60.1 33.0h.01M8.5 30.6h.01M68.0 49.9h.01M64.1 91.2h.01M11.7 77.2h.01M4.0 93.0h.01M17.9 30.7h.01M92.9 40.9h.01M21.7 100.6h.01M59.2 101.0h.01M38.3 56.5h.01M92.7 57.3h.01M95.9 21.4h.01M80.6 18.3h.01M51.1 0.0h.01M17.0 106.8h.01M44.1 91.5h.01M24.3 39.8h.01M9.8 62.5h.01M83.6 58.1h.01M36.5 104.9h.01M86.7 75.3h.01M7.4 70.5h.01M43.1 108.2h.01M35.1 74.7h.01M61.3 42.5h.01M50.7 76.5h.01M88.0 56.3h.01M35.3 110.3h.01M5.5 94.3h.01M66.3 63.0h.01M43.4 84.9h.01M86.4 82.4h.01M72.7 4.0h.01M31.5 15.5h.01M92.4 100.7h.01M14.0 66.4h.01M55.9 5.3h.01M38.0 84.5h.01M62.2 31.7h.01M74.0 32.9h.01M52.8 47.5h.01M94.9 73.3h.01M78.1 76.4h.01M36.9 108.8h.01M68.8 78.1h.01M26.9 18.3h.01M55.8 93.3h.01M77.0 39.2h.01M13.6 58.3h.01M85.1 18.3h.01M71.6 19.3h.01M30.3 6.0h.01M28.9 43.3h.01M93.8 108.7h.01M18.2 35.0h.01M91.5 22.3h.01M31.1 49.5h.01M10.5 29.4h.01M38.2 43.6h.01M93.5 30.2h.01M19.8 102.7h.01M43.7 94.6h.01M61.8 88.0h.01M30.5 17.2h.01M73.4 53.1h.01M54.2 75.8h.01M73.0 31.1h.01M35.2 103.7h.01M51.3 32.6h.01M61.1 29.3h.01M74.8 4.7h.01M80.2 64.0h.01M34.3 106.2h.01M25.8 27.5h.01M6.8 62.0h.01M73.1 76.6h.01M40.0 91.3h.01M10.8 34.7h.01M62.5 109.3h.01M61.5 78.2h.01M75.1 44.6h.01M91.2 83.9h.01M33.1 44.4h.01M78.2 39.5h.01M18.0 98.5h.01M51.6 58.9h.01M64.9 101.9h.01M13.0 38.3h.01M6.4 46.7h.01M48.7 96.3h.01M64.8 65.3h.01M39.2 64.8h.01M26.6 95.5h.01M76.5 94.7h.01M14.7 75.9h.01M73.1 56.6h.01M87.1 101.6h.01M72.1 92.8h.01M62.9 99.3h.01M12.7 79.6h.01M68.3 69.2h.01M26.7 7.6h.01M58.5 93.1h.01M26.5 24.1h.01M21.7 10.6h.01M65.6 110.2h.01M77.8 40.6h.01M67.8 8.2h.01M81.3 36.7h.01M0.3 71.1h.01M13.5 31.1h.01M5.7 50.4h.01M53.8 91.2h.01M3.8 93.5h.01M10.7 25.4h.01M61.1 38.4h.01M32.1 64.2h.01M21.1 89.7h.01M20.3 94.9h.01M78.4 60.7h.01M3.0 87.9h.01M2.8 57.0h.01M41.1 7.1h.01M61.1 81.9h.01M56.7 45.2h.01M49.7 66.5h.01M21.9 98.0h.01M96.6 90.9h.01M93.3 37.2h.01M95.7 8.1h.01M46.4 15.1h.01M44.0 77.1h.01M68.7 51.4h.01M33.1 21.5h.01M39.1 31.9h.01M18.8 83.2h.01M50.1 49.6h.01M19.2 79.5h.01M19.1 30.0h.01M54.3 79.2h.01M94.4 84.5h.01M92.0 104.0h.01M70.1 81.3h.01M6.1 23.2h.01M1.3 97.6h.01M70.0 71.2h.01M25.6 40.2h.01M15.9 71.4h.01M96.2 34.5h.01M4.3 19.8h.01M34.5 101.6h.01M78.0 51.4h.01M9.9 12.1h.01M14.9 87.9h.01M45.7 111.9h.01M88.4 89.8h.01M46.2 92.9h.01M12.4 12.3h.01M54.7 57.4h.01M20.3 28.5h.01M2.1 102.7h.01M68.9 106.8h.01M95.1 49.4h.01M71.0 43.4h.01M78.8 95.1h.01M13.0 1.5h.01M20.8 66.1h.01M36.8 1.0h.01M80.5 88.8h.01M45.0 4.9h.01M86.2 60.4h.01M6.9 36.5h.01M60.6 100.0h.01M47.0 72.3h.01M20.0 27.5h.01M87.9 43.2h.01M10.1 66.8h.01M12.2 22.6h.01M44.3 66.2h.01M61.7 79.9h.01M42.6 7.6h.01M70.3 6.1h.01M45.7 45.2h.01M65.3 80.7h.01M23.3 73.4h.01M67.1 53.3h.01M13.8 102.7h.01M58.1 7.1h.01M23.1 111.5h.01M22.2 44.3h.01M76.4 93.1h.01M61.5 83.8h.01M3.7 10.6h.01M94.7 90.7h.01M3.7 5.5h.01M23.3 105.2h.01M21.3 75.9h.01M90.2 72.2h.01M89.2 29.7h.01M14.9 2.1h.01M73.4 11.7h.01M94.4 80.2h.01M18.1 91.2h.01M15.8 57.9h.01M10.3 88.9h.01M86.3 103.5h.01M0.2 96.2h.01M53.9 92.8h.01M48.7 70.0h.01M57.7 90.3h.01M7.5 6.1h.01M52.9 32.9h.01M38.5 0.9h.01M72.3 2.7h.01M80.5 91.7h.01M44.4 13.8h.01M63.1 23.4h.01M41.6 12.5h.01M94.7 61.7h.01M34.2 10.6h.01M70.8 96.0h.01M82.3 11.5h.01M35.7 34.2h.01M74.0 16.7h.01M58.8 110.6h.01M74.6 0.8h.01M7.3 12.8h.01M67.2 67.7h.01M50.5 51.5h.01M39.5 69.0h.01M62.9 103.6h.01M71.1 90.0h.01M88.5 94.6h.01M69.5 3.5h.01M66.0 96.0h.01M41.8 99.2h.01M17.4 106.5h.01M42.8 79.8h.01M24.5 34.0h.01M33.8 36.7h.01M9.2 50.0h.01M95.1 73.9h.01M90.4 86.1h.01M81.2 112.4h.01M73.0 31.0h.01M24.2 46.6h.01M2.0 26.1h.01M86.0 104.1h.01M31.9 87.1h.01M75.2 100.5h.01M77.1 60.1h.01M10.2 93.3h.01M30.4 70.8h.01M35.6 60.7h.01M93.7 18.2h.01M51.5 73.4h.01M52.2 106.0h.01M39.5 103.3h.01M66.9 109.3h.01M8.7 24.0h.01M27.9 102.4h.01M1.3 29.4h.01M69.4 111.8h.01M17.1 49.5h.01M66.6 78.0h.01M72.4 85.1h.01M24.1 29.1h.01M2.7 78.1h.01M20.3 29.3h.01M93.5 72.7h.01M57.3 74.1h.01M58.0 78.5h.01M29.5 7.2h.01M6.5 1.6h.01M35.1 16.1h.01M10.9 55.8h.01M94.0 77.7h.01M26.5 86.9h.01M17.3 11.3h.01M29.4 46.2h.01M66.9 50.3h.01M70.6 10.7h.01M90.4 38.7h.01M80.7 3.5h.01M80.4 25.6h.01M82.9 90.7h.01M65.1 31.4h.01M1.0 21.5h.01M87.8 17.9h.01M63.9 66.3h.01M64.1 20.4h.01M13.9 11.0h.01M95.3 43.3h.01M63.3 64.4h.01M21.7 7.3h.01M1.4 96.3h.01M12.6 108.8h.01M35.3 81.7h.01M13.4 89.0h.01M24.4 41.4h.01M50.7 12.6h.01M24.1 89.9h.01M27.7 43.0h.01M74.2 25.3h.01M18.8 24.7h.01M37.3 41.3h.01M62.2 53.3h.01M84.4 5.7h.01M64.4 94.5h.01M22.8 3.3h.01M42.5 13.1h.01M44.6 80.4h.01M9.1 13.3h.01M46.5 19.6h.01M22.4 49.8h.01M11.5 7.7h.01M35.0 53.0h.01M90.8 62.7h.01M6.9 25.1h.01M72.2 63.6h.01M84.4 108.8h.01M83.2 12.4h.01M91.5 59.3h.01M23.3 19.3h.01M83.9 24.0h.01M8.1 30.0h.01M89.6 52.1h.01M70.9 8.4h.01M43.9 35.9h.01M19.9 74.9h.01M35.0 13.5h.01M95.5 54.4h.01M17.5 1.2h.01M63.3 58.2h.01M2.4 53.1h.01M71.8 60.7h.01M22.7 56.4h.01M58.7 73.6h.01M14.1 90.8h.01M91.7 83.7h.01M83.2 41.6h.01M87.6 20.5h.01M22.0 67.6h.01M87.5 9.3h.01M21.0 4.1h.01M42.6 15.9h.01M18.6 84.6h.01M56.6 106.2h.01M39.0 76.7h.01M1.2 107.2h.01M22.6 53.9h.01M49.6 107.2h.01M47.7 112.1h.01M60.3 24.5h.01M80.9 22.8h.01M97.0 51.6h.01M21.9 108.6h.01M31.2 46.0h.01M33.3 75.6h.01M2.2 42.3h.01M15.7 93.6h.01M0.0 68.7h.01M25.0 51.3h.01M54.5 80.4h.01M13.4 27.2h.01M11.7 108.5h.01M14.5 15.5h.01M50.7 65.7h.01M86.0 6.4h.01M22.7 18.9h.01M56.8 51.1h.01M39.7 100.4h.01M64.2 97.2h.01M92.8 30.4h.01M91.4 46.1h.01M5.0 103.4h.01M10.1 2.0h.01M28.1 32.7h.01M93.8 98.4h.01M40.7 59.8h.01M82.3 91.2h.01M63.4 57.9h.01M11.3 27.5h.01M63.8 66.3h.01M77.7 101.6h.01M93.4 21.8h.01M7.4 101.4h.01M55.3 20.5h.01M67.1 28.9h.01M22.9 41.4h.01M50.8 76.5h.01M7.1 83.8h.01M60.6 53.3h.01M65.2 90.4h.01M0.9 53.7h.01M65.8 80.1h.01M62.8 20.4h.01M93.0 88.8h.01M22.6 48.7h.01M92.9 23.4h.01M39.7 108.7h.01M87.3 26.3h.01M71.3 40.6h.01M64.3 86.7h.01M12.4 25.2h.01M20.8 30.1h.01M3.5 15.4h.01M39.4 47.5h.01M7.5 65.8h.01M91.4 65.2h.01M34.5 79.6h.01M42.4 19.8h.01M46.7 2.0h.01M65.6 18.2h.01M35.9 108.8h.01M74.4 94.4h.01M62.3 71.7h.01M68.4 109.2h.01M19.0 86.6h.01M29.2 28.9h.01M79.7 67.9h.01M82.4 98.9h.01M57.1 22.4h.01M1.5 60.4h.01M70.4 30.8h.01M6.8 0.5h.01M16.8 78.6h.01M0.4 26.0h.01M25.7 80.4h.01M95.8 2.2h.01M11.1 105.6h.01M94.1 16.8h.01M32.5 59.0h.01M31.1 47.2h.01M46.4 29.2h.01M5.3 9.5h.01M15.8 10.3h.01M60.5 78.7h.01M25.5 89.5h.01M70.7 38.6h.01M47.7 21.3h.01M90.1 63.3h.01M5.0 17.4h.01M67.2 43.5h.01M69.6 25.9h.01M77.3 90.6h.01M9.1 66.2h.01M18.6 80.0h.01M78.0 89.4h.01M22.4 10.5h.01M64.4 63.8h.01M13.4 21.8h.01M56.5 12.2h.01M61.5 27.2h.01M25.1 47.9h.01M51.7 81.9h.01M3.0 81.9h.01M21.4 32.9h.01M62.1 78.1h.01M59.6 101.9h.01M19.8 35.2h.01M64.3 29.5h.01M15.3 25.6h.01M74.8 93.5h.01M69.5 108.3h.01M77.1 35.0h.01M30.6 81.5h.01M5.4 68.8h.01M8.6 5.5h.01M49.8 17.1h.01M90.4 99.1h.01M44.8 22.3h.01M11.6 57.3h.01M50.6 41.0h.01M69.5 59.8h.01M75.2 12.0h.01M6.8 43.7h.01M46.9 28.5h.01M64.8 25.1h.01M30.9 53.9h.01M69.1 87.0h.01M36.1 50.5h.01M90.0 105.5h.01M60.0 11.9h.01M44.2 72.0h.01M27.0 4.2h.01M95.2 102.8h.01M12.5 52.6h.01M60.1 33.9h.01M6.6 84.8h.01M74.8 49.4h.01M8.3 44.5h.01M9.1 108.9h.01M5.0 32.5h.01M74.5 15.3h.01M10.3 8.0h.01M15.9 60.1h.01M80.8 19.1h.01M16.8 86.4h.01M41.3 38.2h.01M12.0 27.4h.01M94.3 13.2h.01M25.2 83.7h.01M86.5 102.2h.01M45.9 108.1h.01M58.6 32.6h.01M45.1 80.9h.01M71.2 14.6h.01M18.8 108.3h.01M10.4 91.9h.01M32.9 28.0h.01M24.8 53.0h.01M96.1 16.8h.01M82.9 36.3h.01M16.8 84.2h.01M33.1 21.2h.01M40.6 92.8h.01M83.7 65.0h.01M1.0 86.3h.01M58.8 101.6h.01M92.3 37.0h.01M82.3 92.5h.01M25.8 41.3h.01M36.3 39.9h.01M36.7 12.5h.01M22.0 102.8h.01M39.8 71.8h.01M86.1 85.4h.01M23.7 103.9h.01M78.0 111.9h.01M70.6 85.3h.01M78.9 28.6h.01M63.6 43.0h.01M81.5 15.1h.01M52.3 38.0h.01M79.6 39.0h.01M81.9 95.8h.01M85.2 15.7h.01M91.0 84.1h.01M65.7 73.7h.01M4.7 98.3h.01M53.1 51.5h.01M32.9 88.5h.01M75.9 98.3h.01M20.8 38.5h.01M24.2 11.3h.01M31.7 2.9h.01M77.3 25.7h.01M6.9 7.6h.01M71.9 22.4h.01M44.8 45.4h.01M77.8 107.8h.01M30.1 71.5h.01M86.8 53.2h.01M87.3 82.9h.01M30.2 98.8h.01M55.6 12.0h.01M57.0 93.7h.01M50.3 54.7h.01M40.4 99.5h.01M64.6 23.5h.01M35.1 41.1h.01M93.0 78.6h.01M12.1 103.3h.01M3.4 66.8h.01M41.9 81.1h.01M41.6 10.4h.01M50.8 92.7h.01M76.5 40.3h.01M21.6 84.2h.01M77.8 24.7h.01M85.7 112.1h.01M42.0 43.0h.01M68.9 105.1h.01M19.6 34.1h.01M31.9 82.7h.01M18.1 61.8h.01M48.5 75.5h.01M13.9 108.1h.01M97.0 63.4h.01M77.1 20.7h.01M88.3 62.3h.01M73.7 98.1h.01M35.1 104.4h.01M20.1 2.6h.01M48.7 101.5h.01M87.3 107.9h.01M49.5 105.4h.01M54.3 16.2h.01M61.2 90.8h.01M41.1 68.0h.01M25.1 31.2h.01M40.8 58.0h.01M45.4 10.4h.01M0.6 38.4h.01M69.5 84.6h.01M23.0 28.9h.01M50.1 19.8h.01M58.5 102.2h.01M19.6 66.2h.01M69.9 84.7h.01M69.1 80.3h.01M26.4 94.7h.01M89.7 5.9h.01M91.6 50.0h.01M8.4 7.9h.01M77.3 76.6h.01M13.8 52.0h.01M62.0 112.7h.01M32.6 86.6h.01M23.8 22.5h.01M15.6 46.3h.01M60.0 34.3h.01M15.7 24.7h.01M8.2 21.8h.01M30.6 57.0h.01M17.8 54.2h.01M42.7 109.9h.01M47.2 106.8h.01M45.7 22.4h.01M57.4 16.3h.01M16.4 8.3h.01M68.0 109.3h.01M39.1 40.0h.01M41.2 39.8h.01M67.0 44.3h.01M14.8 97.7h.01M55.5 0.7h.01M82.4 82.3h.01M34.4 71.2h.01M89.3 45.4h.01M42.0 33.7h.01M53.8 74.9h.01M71.3 107.3h.01M14.1 41.3h.01M82.6 89.4h.01M57.2 76.5h.01M33.0 106.8h.01M53.3 45.5h.01M17.7 13.0h.01M87.1 90.5h.01M2.6 36.5h.01M46.5 56.0h.01M35.3 101.2h.01M33.9 60.1h.01M90.2 72.2h.01M46.3 37.6h.01M37.6 68.8h.01M76.2 29.4h.01M35.9 43.8h.01M35.2 103.2h.01M52.3 31.2h.01M32.2 92.8h.01M15.5 78.0h.01M2.1 21.8h.01M5.8 91.0h.01M14.2 25.8h.01M5.6 29.8h.01M71.1 81.4h.01M88.3 107.0h.01M53.4 104.2h.01M8.7 104.5h.01M42.1 21.8h.01M72.6 97.0h.01M37.4 10.5h.01M84.7 85.1h.01M57.9 110.4h.01M3.7 6.3h.01M12.1 2.5h.01M68.7 71.2h.01M10.9 18.3h.01M17.5 68.8h.01M65.2 109.6h.01M35.0 110.6h.01M42.1 44.2h.01M24.6 26.3h.01M94.5 112.4h.01M68.5 19.8h.01M17.5 17.2h.01M34.0 83.3h.01M5.7 59.9h.01M66.0 3.8h.01M42.6 89.4h.01M55.8 51.0h.01M85.5 67.9h.01M32.7 44.7h.01M91.5 97.1h.01M88.7 63.4h.01M13.8 19.8h.01M37.2 78.0h.01M0.4 90.6h.01M76.2 58.2h.01M0.5 90.2h.01M40.2 75.6h.01M55.3 82.3h.01M39.7 108.5h.01M92.7 105.0h.01M59.7 35.7h.01M36.5 30.4h.01M87.7 89.5h.01M76.4 92.8h.01M96.1 77.7h.01M30.9 85.6h.01M25.4 69.0h.01M15.4 96.9h.01M47.4 31.1h.01M89.5 9.4h.01M90.2 85.5h.01M14.5 86.0h.01M55.6 102.5h.01M56.9 48.3h.01M90.5 9.9h.01M75.4 11.6h.01M26.8 12.8h.01M84.5 49.9h.01M70.5 29.0h.01M70.8 73.3h.01M9.5 55.8h.01M70.0 24.2h.01M63.5 31.4h.01M35.9 104.0h.01M91.5 112.8h.01M41.4 64.6h.01M78.4 85.7h.01M44.3 97.6h.01M38.9 107.4h.01M45.9 13.4h.01M72.7 16.4h.01M65.9 6.0h.01M95.9 61.1h.01M71.8 14.8h.01M61.8 42.5h.01M24.2 92.1h.01M3.2 54.0h.01M8.4 96.2h.01M86.6 3.9h.01M45.1 53.0h.01M69.7 82.4h.01M33.3 105.4h.01M18.0 15.4h.01M79.0 13.6h.01M18.0 56.5h.01M32.6 18.5h.01M90.2 53.5h.01M76.2 28.3h.01M88.5 25.0h.01M87.9 69.3h.01M94.2 87.1h.01M61.2 60.2h.01M82.9 50.1h.01M9.5 103.3h.01M78.1 77.1h.01M72.2 26.2h.01M44.9 93.0h.01M93.3 104.3h.01M15.6 77.3h.01M53.7 45.8h.01M16.3 15.5h.01M45.6 55.7h.01M26.0 41.5h.01M53.7 86.1h.01M57.2 18.3h.01M85.9 41.5h.01M93.1 110.9h.01M13.6 65.8h.01M93.8 43.5h.01M53.1 35.5h.01M2.8 23.1h.01M12.0 32.1h.01M61.1 63.6h.01M92.0 77.5h.01M35.1 107.3h.01M61.5 61.4h.01M83.7 75.7h.01M35.0 68.3h.01M29.1 109.5h.01M23.7 109.9h.01M6.2 1.1h.01M53.7 23.3h.01M49.2 13.4h.01M81.2 75.6h.01M66.4 104.7h.01M96.2 76.6h.01M69.2 0.2h.01M4.8 48.2h.01M94.0 35.4h.01M55.1 1.0h.01M40.3 102.0h.01M57.2 93.2h.01M1.3 22.9h.01M17.4 94.0h.01M9.9 105.3h.01M25.9 99.5h.01M50.0 36.6h.01M93.7 45.8h.01M67.7 7.6h.01M80.5 110.9h.01M10.7 84.3h.01M26.2 16.7h.01M35.3 74.8h.01M92.5 112.3h.01M96.4 70.4h.01M63.4 18.2h.01M70.4 62.3h.01M34.8 101.7h.01M24.7 16.0h.01M15.3 16.9h.01M57.1 90.5h.01M15.5 56.8h.01M55.7 63.3h.01M40.0 61.4h.01M1.5 6.6h.01M41.0 26.8h.01M73.4 27.3h.01M79.9 27.3h.01M9.0 54.0h.01M37.6 37.9h.01M74.2 25.1h.01M65.0 94.3h.01M43.9 56.8h.01M89.6 68.3h.01M17.5 7.9h.01M8.0 37.5h.01M8.6 73.3h.01M41.1 34.9h.01M49.7 105.8h.01M23.7 17.5h.01M29.6 36.6h.01M88.3 79.8h.01M41.6 18.8h.01M4.4 13.8h.01M82.2 73.2h.01M15.2 70.6h.01M5.7 57.3h.01M32.5 11.6h.01M72.0 81.0h.01M49.5 19.0h.01M65.0 49.0h.01M64.1 10.3h.01M87.6 0.4h.01M21.6 45.0h.01M19.2 9.9h.01M66.7 112.3h.01M32.5 30.1h.01M65.1 25.2h.01M38.9 77.8h.01M41.8 17.6h.01M6.8 61.4h.01M96.1 104.0h.01M9.7 56.8h.01M47.4 21.9h.01M65.0 56.0h.01M78.5 33.0h.01M90.6 92.0h.01M45.9 16.0h.01M46.9 14.4h.01M66.5 78.8h.01M56.1 110.3h.01M4.4 80.8h.01M77.7 12.8h.01M31.2 6.1h.01M56.6 81.7h.01M33.8 78.6h.01M35.6 80.5h.01M26.9 110.5h.01M42.5 0.4h.01M8.9 82.1h.01M83.9 72.0h.01M15.1 98.5h.01M69.5 13.0h.01M36.9 75.9h.01M0.4 4.8h.01M34.3 98.8h.01M96.6 36.0h.01M88.2 88.8h.01M83.9 66.5h.01M94.0 72.8h.01M91.9 63.9h.01M19.1 58.6h.01M46.8 38.1h.01M36.2 57.7h.01M57.0 25.1h.01M26.9 56.8h.01M48.9 47.3h.01M64.4 21.0h.01M51.6 31.2h.01M74.7 79.5h.01M75.8 58.5h.01M24.1 104.6h.01M49.6 42.4h.01M28.2 45.4h.01M68.7 92.5h.01M46.8 82.6h.01M20.7 51.1h.01M34.7 34.6h.01M34.9 85.3h.01M71.1 23.4h.01M22.7 88.6h.01M63.5 76.4h.01M61.6 78.4h.01M26.5 6.9h.01M35.0 3.7h.01M93.3 59.3h.01M65.0 109.2h.01M78.0 25.9h.01M32.7 12.3h.01M77.2 83.3h.01M47.3 41.7h.01M26.2 55.1h.01M69.1 101.2h.01M82.3 98.0h.01M42.6 47.6h.01M30.5 110.1h.01M17.8 17.8h.01M27.3 104.2h.01M82.7 37.5h.01M82.6 100.7h.01M41.4 21.7h.01M75.0 42.3h.01M11.6 102.0h.01M42.6 44.9h.01M57.7 28.8h.01M2.0 44.1h.01M36.8 1.3h.01M36.1 86.0h.01M32.3 76.8h.01M60.6 21.3h.01M2.0 76.2h.01M59.3 33.2h.01M19.4 96.7h.01M88.2 26.4h.01M56.8 64.9h.01M31.2 4.1h.01M31.6 72.8h.01M58.4 57.6h.01M11.9 24.0h.01M30.2 47.1h.01M35.2 102.0h.01M11.3 111.5h.01M23.3 96.8h.01M23.6 66.4h.01M36.6 4.3h.01M77.3 91.6h.01M26.1 87.7h.01M46.5 111.5h.01M5.3 43.0h.01M22.1 70.6h.01M75.5 95.2h.01M53.2 43.8h.01M77.6 11.8h.01M25.2 85.1h.01M42.7 112.2h.01M8.8 52.2h.01M20.6 0.2h.01M9.1 10.3h.01M35.8 48.9h.01M49.3 32.7h.01M68.1 58.3h.01M95.2 19.1h.01M49.5 55.8h.01M36.1 97.3h.01M20.3 99.2h.01M34.7 37.9h.01M59.6 63.7h.01M27.5 9.5h.01M92.7 41.7h.01M11.1 74.2h.01M51.6 37.0h.01M31.9 95.5h.01M32.8 47.2h.01M92.8 40.8h.01M39.0 18.3h.01M64.3 75.1h.01M43.3 45.9h.01M22.6 89.3h.01M44.4 94.0h.01M36.4 82.9h.01M2.8 24.8h.01M93.2 77.1h.01M65.5 56.2h.01M45.8 22.3h.01M16.8 72.9h.01M67.3 29.2h.01M62.5 15.4h.01M59.5 19.4h.01M49.4 35.5h.01M53.4 15.1h.01M46.9 69.7h.01M13.1 34.9h.01M65.8 61.7h.01M59.8 88.1h.01M55.4 25.1h.01M42.9 93.8h.01M55.0 85.1h.01M35.3 50.7h.01M94.1 92.9h.01M63.3 12.0h.01M59.4 3.8h.01M90.6 109.8h.01M70.6 30.2h.01M82.0 20.0h.01M80.3 58.8h.01M1.5 100.6h.01M42.7 93.8h.01M66.8 60.2h.01M83.7 22.9h.01M87.2 38.3h.01M2.5 38.0h.01M6.4 8.2h.01M60.5 13.7h.01M15.5 33.1h.01M27.0 104.0h.01M87.8 98.3h.01M96.0 49.7h.01M77.2 31.7h.01M89.9 91.6h.01M71.0 25.7h.01M8.9 104.5h.01M53.6 69.2h.01M83.6 16.2h.01M67.8 52.4h.01M76.2 51.5h.01M19.1 108.1h.01M27.3 84.2h.01M80.6 28.0h.01M67.4 44.8h.01M21.7 24.6h.01M92.5 41.6h.01M49.5 56.6h.01M2.6 85.2h.01M72.3 99.0h.01M34.6 23.7h.01M33.7 82.7h.01M63.8 45.9h.01M50.9 17.4h.01M89.1 53.3h.01M49.2 88.9h.01M19.2 81.6h.01M34.3 91.8h.01M9.2 31.2h.01M61.7 54.5h.01M36.6 65.4h.01M21.1 49.4h.01M0.2 90.2h.01M24.6 93.9h.01M53.6 68.0h.01M60.7 14.2h.01M75.4 33.0h.01M83.7 88.9h.01M65.8 92.1h.01M42.4 76.1h.01M92.4 21.4h.01M9.8 46.5h.01M49.4 16.8h.01M21.5 97.9h.01M37.6 16.8h.01M17.7 65.3h.01M18.4 53.7h.01M52.2 49.7h.01M48.9 94.6h.01M1.6 105.1h.01M19.3 4.3h.01M74.5 64.4h.01M52.2 24.6h.01M75.8 34.6h.01M70.5 25.8h.01M55.6 73.2h.01M36.0 54.2h.01M6.3 72.7h.01M67.1 17.3h.01M53.4 82.8h.01M9.8 94.8h.01M84.4 5.7h.01M24.1 9.5h.01M24.5 9.8h.01M47.5 28.3h.01M29.1 52.1h.01M36.0 89.1h.01M70.1 12.9h.01M21.7 0.9h.01M31.9 12.2h.01M67.6 88.2h.01M96.6 23.6h.01M3.6 85.5h.01M39.9 105.2h.01M38.1 35.3h.01M7.1 107.1h.01M49.7 49.8h.01M42.4 86.9h.01M80.6 53.8h.01M17.3 45.9h.01M86.5 46.1h.01M64.1 63.2h.01M44.8 65.0h.01M23.8 63.0h.01M83.9 9.0h.01M35.8 99.5h.01M94.9 1.5h.01M60.8 71.4h.01M81.8 53.1h.01M12.7 33.9h.01M69.1 82.3h.01M19.8 72.6h.01M63.7 74.3h.01M2.1 49.9h.01M31.5 67.5h.01M32.7 14.5h.01M65.0 32.4h.01M76.7 34.5h.01M52.9 91.3h.01M11.2 82.6h.01M6.6 105.8h.01" stroke="#083880" stroke-opacity=".4" stroke-width="1.3" stroke-linecap="round" fill="none"/></pattern></defs>
<g><rect x="54.58" y="10.10" width="20.75" height="238.90" fill="#26f6ff"/><rect x="54.58" y="9.00" width="20.75" height="1.10" fill="#000000"/><rect x="54.58" y="249.00" width="20.75" height="92.10" fill="#7827ae"/><rect x="54.58" y="341.10" width="20.75" height="147.90" fill="#46a54b"/><rect x="75.33" y="53.50" width="20.75" height="195.50" fill="#26f6ff"/><rect x="75.33" y="19.90" width="20.75" height="33.60" fill="#26a0f8"/><rect x="75.33" y="9.00" width="20.75" height="10.90" fill="#4cf296"/><rect x="75.33" y="249.00" width="20.75" height="56.90" fill="#7827ae"/><rect x="75.33" y="305.90" width="20.75" height="183.10" fill="#46a54b"/><rect x="96.09" y="92.50" width="20.75" height="156.50" fill="#26f6ff"/><rect x="96.09" y="30.00" width="20.75" height="62.50" fill="#26a0f8"/><rect x="96.09" y="9.00" width="20.75" height="21.00" fill="#4cf296"/><rect x="96.09" y="249.00" width="20.75" height="41.30" fill="#7827ae"/><rect x="96.09" y="290.30" width="20.75" height="198.70" fill="#46a54b"/><rect x="116.84" y="129.00" width="20.75" height="120.00" fill="#26f6ff"/><rect x="116.84" y="39.00" width="20.75" height="90.00" fill="#26a0f8"/><rect x="116.84" y="9.00" width="20.75" height="30.00" fill="#4cf296"/><rect x="116.84" y="249.00" width="20.75" height="32.30" fill="#7827ae"/><rect x="116.84" y="281.30" width="20.75" height="207.70" fill="#46a54b"/><rect x="137.60" y="162.30" width="20.75" height="86.70" fill="#26f6ff"/><rect x="137.60" y="47.40" width="20.75" height="114.90" fill="#26a0f8"/><rect x="137.60" y="9.00" width="20.75" height="38.40" fill="#4cf296"/><rect x="137.60" y="249.00" width="20.75" height="26.60" fill="#7827ae"/><rect x="137.60" y="275.60" width="20.75" height="213.40" fill="#46a54b"/><rect x="158.35" y="193.30" width="20.75" height="55.70" fill="#26f6ff"/><rect x="158.35" y="55.30" width="20.75" height="138.00" fill="#26a0f8"/><rect x="158.35" y="9.00" width="20.75" height="46.30" fill="#4cf296"/><rect x="158.35" y="249.00" width="20.75" height="22.80" fill="#7827ae"/><rect x="158.35" y="271.80" width="20.75" height="217.20" fill="#46a54b"/><rect x="179.10" y="221.40" width="20.75" height="27.60" fill="#26f6ff"/><rect x="179.10" y="62.00" width="20.75" height="159.40" fill="#26a0f8"/><rect x="179.10" y="9.00" width="20.75" height="53.00" fill="#4cf296"/><rect x="179.10" y="249.00" width="20.75" height="20.20" fill="#7827ae"/><rect x="179.10" y="269.20" width="20.75" height="219.80" fill="#46a54b"/><rect x="199.86" y="247.60" width="20.75" height="1.40" fill="#1c46f8"/><rect x="199.86" y="68.40" width="20.75" height="179.20" fill="#26a0f8"/><rect x="199.86" y="9.00" width="20.75" height="59.40" fill="#4cf296"/><rect x="199.86" y="249.00" width="20.75" height="17.70" fill="#7827ae"/><rect x="199.86" y="266.70" width="20.75" height="222.30" fill="#46a54b"/><rect x="220.61" y="226.50" width="20.75" height="22.50" fill="#1c46f8"/><rect x="220.61" y="52.30" width="20.75" height="174.20" fill="#26a0f8"/><rect x="220.61" y="9.00" width="20.75" height="43.30" fill="#4cf296"/><rect x="220.61" y="249.00" width="20.75" height="15.90" fill="#7827ae"/><rect x="220.61" y="264.90" width="20.75" height="224.10" fill="#46a54b"/><rect x="241.37" y="203.30" width="20.75" height="45.70" fill="#1c46f8"/><rect x="241.37" y="34.50" width="20.75" height="168.80" fill="#26a0f8"/><rect x="241.37" y="9.00" width="20.75" height="25.50" fill="#4cf296"/><rect x="241.37" y="249.00" width="20.75" height="14.60" fill="#7827ae"/><rect x="241.37" y="263.60" width="20.75" height="225.40" fill="#46a54b"/><rect x="262.12" y="181.90" width="20.75" height="67.10" fill="#1c46f8"/><rect x="262.12" y="18.40" width="20.75" height="163.50" fill="#26a0f8"/><rect x="262.12" y="9.00" width="20.75" height="9.40" fill="#4cf296"/><rect x="262.12" y="249.00" width="20.75" height="13.60" fill="#7827ae"/><rect x="262.12" y="262.60" width="20.75" height="226.40" fill="#46a54b"/><rect x="282.88" y="169.30" width="20.75" height="79.70" fill="#1c46f8"/><rect x="282.88" y="9.00" width="20.75" height="160.30" fill="#26a0f8"/><rect x="282.88" y="249.00" width="20.75" height="11.70" fill="#7827ae"/><rect x="282.88" y="260.70" width="20.75" height="2.00" fill="#1e32fa"/><rect x="282.88" y="262.70" width="20.75" height="226.30" fill="#46a54b"/><rect x="303.63" y="169.30" width="20.75" height="79.70" fill="#1c46f8"/><rect x="303.63" y="9.00" width="20.75" height="160.30" fill="#26a0f8"/><rect x="303.63" y="249.00" width="20.75" height="10.70" fill="#7827ae"/><rect x="303.63" y="259.70" width="20.75" height="6.50" fill="#1e32fa"/><rect x="303.63" y="266.20" width="20.75" height="222.80" fill="#46a54b"/><rect x="324.39" y="169.30" width="20.75" height="79.70" fill="#1c46f8"/><rect x="324.39" y="9.00" width="20.75" height="160.30" fill="#26a0f8"/><rect x="324.39" y="249.00" width="20.75" height="9.60" fill="#7827ae"/><rect x="324.39" y="258.60" width="20.75" height="10.70" fill="#1e32fa"/><rect x="324.39" y="269.30" width="20.75" height="219.70" fill="#46a54b"/><rect x="345.14" y="169.30" width="20.75" height="79.70" fill="#1c46f8"/><rect x="345.14" y="9.00" width="20.75" height="160.30" fill="#26a0f8"/><rect x="345.14" y="249.00" width="20.75" height="8.50" fill="#7827ae"/><rect x="345.14" y="257.50" width="20.75" height="14.10" fill="#1e32fa"/><rect x="345.14" y="271.60" width="20.75" height="217.40" fill="#46a54b"/><rect x="365.90" y="169.30" width="20.75" height="79.70" fill="#1c46f8"/><rect x="365.90" y="9.00" width="20.75" height="160.30" fill="#26a0f8"/><rect x="365.90" y="249.00" width="20.75" height="7.90" fill="#7827ae"/><rect x="365.90" y="256.90" width="20.75" height="16.80" fill="#1e32fa"/><rect x="365.90" y="273.70" width="20.75" height="215.30" fill="#46a54b"/><rect x="386.65" y="169.30" width="20.75" height="79.70" fill="#1c46f8"/><rect x="386.65" y="9.00" width="20.75" height="160.30" fill="#26a0f8"/><rect x="386.65" y="249.00" width="20.75" height="7.40" fill="#7827ae"/><rect x="386.65" y="256.40" width="20.75" height="18.80" fill="#1e32fa"/><rect x="386.65" y="275.20" width="20.75" height="213.80" fill="#46a54b"/><rect x="407.40" y="169.30" width="20.75" height="79.70" fill="#1c46f8"/><rect x="407.40" y="9.00" width="20.75" height="160.30" fill="#26a0f8"/><rect x="407.40" y="249.00" width="20.75" height="7.10" fill="#7827ae"/><rect x="407.40" y="256.10" width="20.75" height="20.60" fill="#1e32fa"/><rect x="407.40" y="276.70" width="20.75" height="212.30" fill="#46a54b"/><rect x="428.16" y="169.30" width="20.75" height="79.70" fill="#1c46f8"/><rect x="428.16" y="9.00" width="20.75" height="160.30" fill="#26a0f8"/><rect x="428.16" y="249.00" width="20.75" height="6.90" fill="#7827ae"/><rect x="428.16" y="255.90" width="20.75" height="22.40" fill="#1e32fa"/><rect x="428.16" y="278.30" width="20.75" height="210.70" fill="#46a54b"/><rect x="448.91" y="169.30" width="20.75" height="79.70" fill="#1c46f8"/><rect x="448.91" y="9.00" width="20.75" height="160.30" fill="#26a0f8"/><rect x="448.91" y="249.00" width="20.75" height="6.60" fill="#7827ae"/><rect x="448.91" y="255.60" width="20.75" height="23.70" fill="#1e32fa"/><rect x="448.91" y="279.30" width="20.75" height="209.70" fill="#46a54b"/><rect x="469.67" y="169.30" width="20.75" height="79.70" fill="#1c46f8"/><rect x="469.67" y="9.00" width="20.75" height="160.30" fill="#26a0f8"/><rect x="469.67" y="249.00" width="20.75" height="6.40" fill="#7827ae"/><rect x="469.67" y="255.40" width="20.75" height="24.90" fill="#1e32fa"/><rect x="469.67" y="280.30" width="20.75" height="208.70" fill="#46a54b"/></g>
<g><path d="M54.58 17.40L68.35 10.10M54.58 25.60L75.33 14.60M54.58 33.80L75.33 22.80M54.58 42.00L75.33 31.00M54.58 50.20L75.33 39.20M54.58 58.40L75.33 47.40M54.58 66.60L75.33 55.60M54.58 74.80L75.33 63.80M54.58 83.00L75.33 72.00M54.58 91.20L75.33 80.20M54.58 99.40L75.33 88.40M54.58 107.60L75.33 96.60M54.58 115.80L75.33 104.80M54.58 124.00L75.33 113.00M54.58 132.20L75.33 121.20M54.58 140.40L75.33 129.40M54.58 148.60L75.33 137.60M54.58 156.80L75.33 145.80M54.58 165.00L75.33 154.00M54.58 173.20L75.33 162.20M54.58 181.40L75.33 170.40M54.58 189.60L75.33 178.60M54.58 197.80L75.33 186.80M54.58 206.00L75.33 195.00M54.58 214.20L75.33 203.20M54.58 222.40L75.33 211.40M54.58 230.60L75.33 219.60M54.58 238.80L75.33 227.80M54.58 247.00L75.33 236.00M66.28 249.00L75.33 244.20" stroke="#004048" stroke-opacity=".64" stroke-width="1.1" fill="none"/><path d="M75.33 59.00L85.71 53.50M75.33 67.20L96.09 56.20M75.33 75.40L96.09 64.40M75.33 83.60L96.09 72.60M75.33 91.80L96.09 80.80M75.33 100.00L96.09 89.00M75.33 108.20L96.09 97.20M75.33 116.40L96.09 105.40M75.33 124.60L96.09 113.60M75.33 132.80L96.09 121.80M75.33 141.00L96.09 130.00M75.33 149.20L96.09 138.20M75.33 157.40L96.09 146.40M75.33 165.60L96.09 154.60M75.33 173.80L96.09 162.80M75.33 182.00L96.09 171.00M75.33 190.20L96.09 179.20M75.33 198.40L96.09 187.40M75.33 206.60L96.09 195.60M75.33 214.80L96.09 203.80M75.33 223.00L96.09 212.00M75.33 231.20L96.09 220.20M75.33 239.40L96.09 228.40M75.33 247.60L96.09 236.60M88.16 249.00L96.09 244.80" stroke="#004048" stroke-opacity=".64" stroke-width="1.1" fill="none"/><rect x="75.33" y="19.90" width="20.75" height="33.60" fill="url(#sp)"/><path d="M75.33 14.00H96.09M75.33 19.07H96.09" stroke="#003a20" stroke-opacity=".7" stroke-width=".55" fill="none"/><path d="M96.09 97.00L104.58 92.50M96.09 105.20L116.84 94.20M96.09 113.40L116.84 102.40M96.09 121.60L116.84 110.60M96.09 129.80L116.84 118.80M96.09 138.00L116.84 127.00M96.09 146.20L116.84 135.20M96.09 154.40L116.84 143.40M96.09 162.60L116.84 151.60M96.09 170.80L116.84 159.80M96.09 179.00L116.84 168.00M96.09 187.20L116.84 176.20M96.09 195.40L116.84 184.40M96.09 203.60L116.84 192.60M96.09 211.80L116.84 200.80M96.09 220.00L116.84 209.00M96.09 228.20L116.84 217.20M96.09 236.40L116.84 225.40M96.09 244.60L116.84 233.60M103.26 249.00L116.84 241.80" stroke="#004048" stroke-opacity=".64" stroke-width="1.1" fill="none"/><rect x="96.09" y="30.00" width="20.75" height="62.50" fill="url(#sp)"/><path d="M96.09 14.00H116.84M96.09 19.07H116.84M96.09 24.15H116.84" stroke="#003a20" stroke-opacity=".7" stroke-width=".55" fill="none"/><path d="M116.84 132.00L122.50 129.00M116.84 140.20L137.60 129.20M116.84 148.40L137.60 137.40M116.84 156.60L137.60 145.60M116.84 164.80L137.60 153.80M116.84 173.00L137.60 162.00M116.84 181.20L137.60 170.20M116.84 189.40L137.60 178.40M116.84 197.60L137.60 186.60M116.84 205.80L137.60 194.80M116.84 214.00L137.60 203.00M116.84 222.20L137.60 211.20M116.84 230.40L137.60 219.40M116.84 238.60L137.60 227.60M116.84 246.80L137.60 235.80M128.16 249.00L137.60 244.00" stroke="#004048" stroke-opacity=".64" stroke-width="1.1" fill="none"/><rect x="116.84" y="39.00" width="20.75" height="90.00" fill="url(#sp)"/><path d="M116.84 14.00H137.60M116.84 19.07H137.60M116.84 24.15H137.60M116.84 29.22H137.60M116.84 34.30H137.60" stroke="#003a20" stroke-opacity=".7" stroke-width=".55" fill="none"/><path d="M137.60 169.30L150.80 162.30M137.60 177.50L158.35 166.50M137.60 185.70L158.35 174.70M137.60 193.90L158.35 182.90M137.60 202.10L158.35 191.10M137.60 210.30L158.35 199.30M137.60 218.50L158.35 207.50M137.60 226.70L158.35 215.70M137.60 234.90L158.35 223.90M137.60 243.10L158.35 232.10M141.94 249.00L158.35 240.30M157.41 249.00L158.35 248.50" stroke="#004048" stroke-opacity=".64" stroke-width="1.1" fill="none"/><rect x="137.60" y="47.40" width="20.75" height="114.90" fill="url(#sp)"/><path d="M137.60 14.00H158.35M137.60 19.07H158.35M137.60 24.15H158.35M137.60 29.22H158.35M137.60 34.30H158.35M137.60 39.38H158.35M137.60 44.45H158.35" stroke="#003a20" stroke-opacity=".7" stroke-width=".55" fill="none"/><path d="M158.35 198.50L168.16 193.30M158.35 206.70L179.10 195.70M158.35 214.90L179.10 203.90M158.35 223.10L179.10 212.10M158.35 231.30L179.10 220.30M158.35 239.50L179.10 228.50M158.35 247.70L179.10 236.70M171.37 249.00L179.10 244.90" stroke="#004048" stroke-opacity=".64" stroke-width="1.1" fill="none"/><rect x="158.35" y="55.30" width="20.75" height="138.00" fill="url(#sp)"/><path d="M158.35 14.00H179.10M158.35 19.07H179.10M158.35 24.15H179.10M158.35 29.22H179.10M158.35 34.30H179.10M158.35 39.38H179.10M158.35 44.45H179.10M158.35 49.53H179.10" stroke="#003a20" stroke-opacity=".7" stroke-width=".55" fill="none"/><path d="M179.10 226.65L189.01 221.40M179.10 234.85L199.86 223.85M179.10 243.05L199.86 232.05M183.35 249.00L199.86 240.25M198.82 249.00L199.86 248.45" stroke="#004048" stroke-opacity=".64" stroke-width="1.1" fill="none"/><rect x="179.10" y="62.00" width="20.75" height="159.40" fill="url(#sp)"/><path d="M179.10 14.00H199.86M179.10 19.07H199.86M179.10 24.15H199.86M179.10 29.22H199.86M179.10 34.30H199.86M179.10 39.38H199.86M179.10 44.45H199.86M179.10 49.53H199.86M179.10 54.60H199.86M179.10 59.68H199.86" stroke="#003a20" stroke-opacity=".7" stroke-width=".55" fill="none"/><rect x="199.86" y="68.40" width="20.75" height="179.20" fill="url(#sp)"/><path d="M199.86 14.00H220.61M199.86 19.07H220.61M199.86 24.15H220.61M199.86 29.22H220.61M199.86 34.30H220.61M199.86 39.38H220.61M199.86 44.45H220.61M199.86 49.53H220.61M199.86 54.60H220.61M199.86 59.68H220.61M199.86 64.75H220.61" stroke="#003a20" stroke-opacity=".7" stroke-width=".55" fill="none"/><rect x="220.61" y="52.30" width="20.75" height="174.20" fill="url(#sp)"/><path d="M220.61 14.00H241.37M220.61 19.07H241.37M220.61 24.15H241.37M220.61 29.22H241.37M220.61 34.30H241.37M220.61 39.38H241.37M220.61 44.45H241.37M220.61 49.53H241.37" stroke="#003a20" stroke-opacity=".7" stroke-width=".55" fill="none"/><rect x="241.37" y="34.50" width="20.75" height="168.80" fill="url(#sp)"/><path d="M241.37 14.00H262.12M241.37 19.07H262.12M241.37 24.15H262.12M241.37 29.22H262.12" stroke="#003a20" stroke-opacity=".7" stroke-width=".55" fill="none"/><rect x="262.12" y="18.40" width="20.75" height="163.50" fill="url(#sp)"/><path d="M262.12 14.00H282.88" stroke="#003a20" stroke-opacity=".7" stroke-width=".55" fill="none"/><rect x="282.88" y="9.00" width="20.75" height="160.30" fill="url(#sp)"/><rect x="303.63" y="9.00" width="20.75" height="160.30" fill="url(#sp)"/><rect x="324.39" y="9.00" width="20.75" height="160.30" fill="url(#sp)"/><rect x="345.14" y="9.00" width="20.75" height="160.30" fill="url(#sp)"/><rect x="365.90" y="9.00" width="20.75" height="160.30" fill="url(#sp)"/><rect x="386.65" y="9.00" width="20.75" height="160.30" fill="url(#sp)"/><rect x="407.40" y="9.00" width="20.75" height="160.30" fill="url(#sp)"/><rect x="428.16" y="9.00" width="20.75" height="160.30" fill="url(#sp)"/><rect x="448.91" y="9.00" width="20.75" height="160.30" fill="url(#sp)"/><rect x="469.67" y="9.00" width="20.75" height="160.30" fill="url(#sp)"/></g>
<g fill="none" stroke="#000" stroke-opacity=".42" stroke-width="1.1"><rect x="54.58" y="10.10" width="20.75" height="238.90"/><rect x="54.58" y="9.00" width="20.75" height="1.10"/><rect x="54.58" y="249.00" width="20.75" height="92.10"/><rect x="54.58" y="341.10" width="20.75" height="147.90"/><rect x="75.33" y="53.50" width="20.75" height="195.50"/><rect x="75.33" y="19.90" width="20.75" height="33.60"/><rect x="75.33" y="9.00" width="20.75" height="10.90"/><rect x="75.33" y="249.00" width="20.75" height="56.90"/><rect x="75.33" y="305.90" width="20.75" height="183.10"/><rect x="96.09" y="92.50" width="20.75" height="156.50"/><rect x="96.09" y="30.00" width="20.75" height="62.50"/><rect x="96.09" y="9.00" width="20.75" height="21.00"/><rect x="96.09" y="249.00" width="20.75" height="41.30"/><rect x="96.09" y="290.30" width="20.75" height="198.70"/><rect x="116.84" y="129.00" width="20.75" height="120.00"/><rect x="116.84" y="39.00" width="20.75" height="90.00"/><rect x="116.84" y="9.00" width="20.75" height="30.00"/><rect x="116.84" y="249.00" width="20.75" height="32.30"/><rect x="116.84" y="281.30" width="20.75" height="207.70"/><rect x="137.60" y="162.30" width="20.75" height="86.70"/><rect x="137.60" y="47.40" width="20.75" height="114.90"/><rect x="137.60" y="9.00" width="20.75" height="38.40"/><rect x="137.60" y="249.00" width="20.75" height="26.60"/><rect x="137.60" y="275.60" width="20.75" height="213.40"/><rect x="158.35" y="193.30" width="20.75" height="55.70"/><rect x="158.35" y="55.30" width="20.75" height="138.00"/><rect x="158.35" y="9.00" width="20.75" height="46.30"/><rect x="158.35" y="249.00" width="20.75" height="22.80"/><rect x="158.35" y="271.80" width="20.75" height="217.20"/><rect x="179.10" y="221.40" width="20.75" height="27.60"/><rect x="179.10" y="62.00" width="20.75" height="159.40"/><rect x="179.10" y="9.00" width="20.75" height="53.00"/><rect x="179.10" y="249.00" width="20.75" height="20.20"/><rect x="179.10" y="269.20" width="20.75" height="219.80"/><rect x="199.86" y="247.60" width="20.75" height="1.40"/><rect x="199.86" y="68.40" width="20.75" height="179.20"/><rect x="199.86" y="9.00" width="20.75" height="59.40"/><rect x="199.86" y="249.00" width="20.75" height="17.70"/><rect x="199.86" y="266.70" width="20.75" height="222.30"/><rect x="220.61" y="226.50" width="20.75" height="22.50"/><rect x="220.61" y="52.30" width="20.75" height="174.20"/><rect x="220.61" y="9.00" width="20.75" height="43.30"/><rect x="220.61" y="249.00" width="20.75" height="15.90"/><rect x="220.61" y="264.90" width="20.75" height="224.10"/><rect x="241.37" y="203.30" width="20.75" height="45.70"/><rect x="241.37" y="34.50" width="20.75" height="168.80"/><rect x="241.37" y="9.00" width="20.75" height="25.50"/><rect x="241.37" y="249.00" width="20.75" height="14.60"/><rect x="241.37" y="263.60" width="20.75" height="225.40"/><rect x="262.12" y="181.90" width="20.75" height="67.10"/><rect x="262.12" y="18.40" width="20.75" height="163.50"/><rect x="262.12" y="9.00" width="20.75" height="9.40"/><rect x="262.12" y="249.00" width="20.75" height="13.60"/><rect x="262.12" y="262.60" width="20.75" height="226.40"/><rect x="282.88" y="169.30" width="20.75" height="79.70"/><rect x="282.88" y="9.00" width="20.75" height="160.30"/><rect x="282.88" y="249.00" width="20.75" height="11.70"/><rect x="282.88" y="260.70" width="20.75" height="2.00"/><rect x="282.88" y="262.70" width="20.75" height="226.30"/><rect x="303.63" y="169.30" width="20.75" height="79.70"/><rect x="303.63" y="9.00" width="20.75" height="160.30"/><rect x="303.63" y="249.00" width="20.75" height="10.70"/><rect x="303.63" y="259.70" width="20.75" height="6.50"/><rect x="303.63" y="266.20" width="20.75" height="222.80"/><rect x="324.39" y="169.30" width="20.75" height="79.70"/><rect x="324.39" y="9.00" width="20.75" height="160.30"/><rect x="324.39" y="249.00" width="20.75" height="9.60"/><rect x="324.39" y="258.60" width="20.75" height="10.70"/><rect x="324.39" y="269.30" width="20.75" height="219.70"/><rect x="345.14" y="169.30" width="20.75" height="79.70"/><rect x="345.14" y="9.00" width="20.75" height="160.30"/><rect x="345.14" y="249.00" width="20.75" height="8.50"/><rect x="345.14" y="257.50" width="20.75" height="14.10"/><rect x="345.14" y="271.60" width="20.75" height="217.40"/><rect x="365.90" y="169.30" width="20.75" height="79.70"/><rect x="365.90" y="9.00" width="20.75" height="160.30"/><rect x="365.90" y="249.00" width="20.75" height="7.90"/><rect x="365.90" y="256.90" width="20.75" height="16.80"/><rect x="365.90" y="273.70" width="20.75" height="215.30"/><rect x="386.65" y="169.30" width="20.75" height="79.70"/><rect x="386.65" y="9.00" width="20.75" height="160.30"/><rect x="386.65" y="249.00" width="20.75" height="7.40"/><rect x="386.65" y="256.40" width="20.75" height="18.80"/><rect x="386.65" y="275.20" width="20.75" height="213.80"/><rect x="407.40" y="169.30" width="20.75" height="79.70"/><rect x="407.40" y="9.00" width="20.75" height="160.30"/><rect x="407.40" y="249.00" width="20.75" height="7.10"/><rect x="407.40" y="256.10" width="20.75" height="20.60"/><rect x="407.40" y="276.70" width="20.75" height="212.30"/><rect x="428.16" y="169.30" width="20.75" height="79.70"/><rect x="428.16" y="9.00" width="20.75" height="160.30"/><rect x="428.16" y="249.00" width="20.75" height="6.90"/><rect x="428.16" y="255.90" width="20.75" height="22.40"/><rect x="428.16" y="278.30" width="20.75" height="210.70"/><rect x="448.91" y="169.30" width="20.75" height="79.70"/><rect x="448.91" y="9.00" width="20.75" height="160.30"/><rect x="448.91" y="249.00" width="20.75" height="6.60"/><rect x="448.91" y="255.60" width="20.75" height="23.70"/><rect x="448.91" y="279.30" width="20.75" height="209.70"/><rect x="469.67" y="169.30" width="20.75" height="79.70"/><rect x="469.67" y="9.00" width="20.75" height="160.30"/><rect x="469.67" y="249.00" width="20.75" height="6.40"/><rect x="469.67" y="255.40" width="20.75" height="24.90"/><rect x="469.67" y="280.30" width="20.75" height="208.70"/></g>
<g stroke="#7a7a7a" stroke-width=".9" fill="none">
<path d="M43.9 9.0V488.8H500.8"/>
<path d="M43.9 9h4.8"/>
<path d="M43.9 129h4.8"/>
<path d="M43.9 249h4.8"/>
<path d="M43.9 369h4.8"/>
<path d="M43.9 489h4.8"/>
</g>
<path d="M44.2 249.0H500.8" stroke="#222" stroke-opacity=".7" stroke-width=".8"/>
<text class="tk" x="40" y="13.7" text-anchor="end">1</text>
<text class="tk" x="40" y="133.7" text-anchor="end">0.5</text>
<text class="tk" x="40" y="253.7" text-anchor="end">0</text>
<text class="tk" x="40" y="373.7" text-anchor="end">0.5</text>
<text class="tk" x="40" y="493.7" text-anchor="end">1</text>
<text class="tk" x="64.6" y="504.3" text-anchor="middle">0.1</text>
<text class="tk" x="168.4" y="504.3" text-anchor="middle">0.6</text>
<text class="tk" x="273.5" y="504.3" text-anchor="middle">1</text>
<text class="tk" x="377.7" y="504.3" text-anchor="middle">1.4</text>
<text class="tk" x="481.8" y="504.3" text-anchor="middle">1.8</text>
<text x="258.4" y="520.9" font-family="Liberation Serif,serif" font-style="italic" font-size="16.5px" fill="#444" textLength="9.2" lengthAdjust="spacingAndGlyphs">λ</text>
<text class="mb" transform="translate(272.6 522) scale(0.6 1)">[</text>
<text class="mb" transform="translate(276.3 522) scale(0.85 1)">-</text>
<text class="mb" transform="translate(282.0 522) scale(0.6 1)">]</text>
<g transform="translate(16.5 249.5) rotate(-90)">
<text class="ma" x="-61.8" y="0.6">←</text>
<text class="mi" x="-41.2" y="0">x</text>
<text class="mi" x="-33.0" y="2.8" font-size="9.5px">i</text>
<text class="mb" transform="translate(-21.8 1.1) scale(0.6 1)">[</text>
<text class="mb" transform="translate(-18.55 1.1) scale(0.85 1)">-</text>
<text class="mb" transform="translate(-13.3 1.1) scale(0.6 1)">]</text>
<text class="ms" x="-3.1" y="1.4">/</text>
<text class="mi" x="10.4" y="0">z</text>
<text class="mi" x="17.4" y="2.8" font-size="9.5px">i</text>
<text class="mb" transform="translate(27.7 1.1) scale(0.6 1)">[</text>
<text class="mb" transform="translate(31.1 1.1) scale(0.85 1)">-</text>
<text class="mb" transform="translate(36.5 1.1) scale(0.6 1)">]</text>
<text class="ma" x="46.0" y="0.6">→</text>
</g>
<rect x="477.3" y="172.0" width="68.19999999999999" height="136.8" fill="#fff" stroke="#777" stroke-width=".8"/>
<rect x="480.2" y="174.8" width="24.100000000000023" height="10.2" fill="#000000"/>
<rect x="480.2" y="174.8" width="24.100000000000023" height="10.2" fill="none" stroke="#000" stroke-opacity=".85" stroke-width="1.05"/>
<text class="lg"><tspan x="506.2" y="183.5">C</tspan></text>
<rect x="480.2" y="188.3" width="24.100000000000023" height="10.2" fill="#1c46f8"/>
<rect x="480.2" y="188.3" width="24.100000000000023" height="10.2" fill="none" stroke="#000" stroke-opacity=".85" stroke-width="1.05"/>
<text class="lg" transform="translate(507.6 196.3) scale(1.06 1)">F</text>
<text class="lg"><tspan x="515.1" y="196.3">e</tspan><tspan x="519.8" y="198.0" class="sb">2</tspan><tspan x="523.8" y="196.3">O</tspan><tspan x="532.5" y="198.0" class="sb">3</tspan></text>
<rect x="480.2" y="201.8" width="24.100000000000023" height="10.2" fill="#4cf296"/>
<path d="M480.2 203.70000000000002H504.3M480.2 205.95000000000002H504.3M480.2 208.20000000000002H504.3M480.2 210.45000000000002H504.3" stroke="#005a30" stroke-opacity=".55" stroke-width="1.45"/>
<rect x="480.2" y="201.8" width="24.100000000000023" height="10.2" fill="none" stroke="#000" stroke-opacity=".85" stroke-width="1.05"/>
<text class="lg" transform="translate(507.6 209.8) scale(1.06 1)">F</text>
<text class="lg"><tspan x="515.1" y="209.8">e</tspan><tspan x="519.8" y="211.5" class="sb">3</tspan><tspan x="523.8" y="209.8">O</tspan><tspan x="532.5" y="211.5" class="sb">4</tspan></text>
<rect x="480.2" y="215.3" width="24.100000000000023" height="10.2" fill="#26a0f8"/>
<rect x="480.2" y="215.3" width="24.100000000000023" height="10.2" fill="#0850b0" fill-opacity=".32"/>
<rect x="480.2" y="215.3" width="24.100000000000023" height="10.2" fill="url(#sp)"/>
<g transform="translate(13 29)"><rect x="467.2" y="186.3" width="24.100000000000023" height="10.2" fill="url(#sp)"/></g>
<rect x="480.2" y="215.3" width="24.100000000000023" height="10.2" fill="none" stroke="#000" stroke-opacity=".85" stroke-width="1.05"/>
<text class="lg" transform="translate(505.8 223.5) scale(1.25 1)">T</text>
<text class="lg"><tspan x="514.9" y="223.5">i</tspan><tspan x="518.2" y="223.5">O</tspan><tspan x="526.9" y="225.2" class="sb">2</tspan></text>
<rect x="480.2" y="228.9" width="24.100000000000023" height="10.2" fill="#26f6ff"/>
<path d="M480.20 235.53L483.45 228.90M482.70 239.10L487.70 228.90M486.95 239.10L491.95 228.90M491.20 239.10L496.20 228.90M495.45 239.10L500.45 228.90M499.70 239.10L504.30 229.72M503.95 239.10L504.30 238.39" stroke="#006070" stroke-opacity=".5" stroke-width="1.9" fill="none"/>
<rect x="480.2" y="228.9" width="24.100000000000023" height="10.2" fill="none" stroke="#000" stroke-opacity=".85" stroke-width="1.05"/>
<text class="lg" transform="translate(507.6 236.8) scale(1.06 1)">F</text>
<text class="lg" transform="translate(518.9 236.8) scale(1.25 1)">T</text>
<text class="lg"><tspan x="515.1" y="236.8">e</tspan><tspan x="528.1" y="236.8">i</tspan><tspan x="531.2" y="236.8">O</tspan><tspan x="539.5" y="238.5" class="sb">3</tspan></text>
<rect x="480.2" y="256.5" width="24.100000000000023" height="10.2" fill="#f8183e"/>
<rect x="480.2" y="256.5" width="24.100000000000023" height="10.2" fill="none" stroke="#000" stroke-opacity=".85" stroke-width="1.05"/>
<text class="lg"><tspan x="506.2" y="264.1">C</tspan><tspan x="514.3" y="264.1">O</tspan></text>
<rect x="480.2" y="269.9" width="24.100000000000023" height="10.2" fill="#7827ae"/>
<rect x="480.2" y="269.9" width="24.100000000000023" height="10.2" fill="none" stroke="#000" stroke-opacity=".85" stroke-width="1.05"/>
<text class="lg"><tspan x="506.2" y="277.7">C</tspan><tspan x="514.3" y="277.7">O</tspan><tspan x="523.5" y="279.4" class="sb">2</tspan></text>
<rect x="480.2" y="283.1" width="24.100000000000023" height="10.2" fill="#1e32fa"/>
<rect x="480.2" y="283.1" width="24.100000000000023" height="10.2" fill="none" stroke="#000" stroke-opacity=".85" stroke-width="1.05"/>
<text class="lg"><tspan x="506.2" y="291.0">O</tspan><tspan x="514.5" y="292.7" class="sb">2</tspan></text>
<rect x="480.2" y="296.7" width="24.100000000000023" height="10.2" fill="#46a54b"/>
<rect x="480.2" y="296.7" width="24.100000000000023" height="10.2" fill="none" stroke="#000" stroke-opacity=".85" stroke-width="1.05"/>
<text class="lg" transform="translate(507.3 304.6) scale(1.05 1)">N</text>
<text class="lg"><tspan x="515.3" y="306.3" class="sb">2</tspan></text>
</svg></body></html>
